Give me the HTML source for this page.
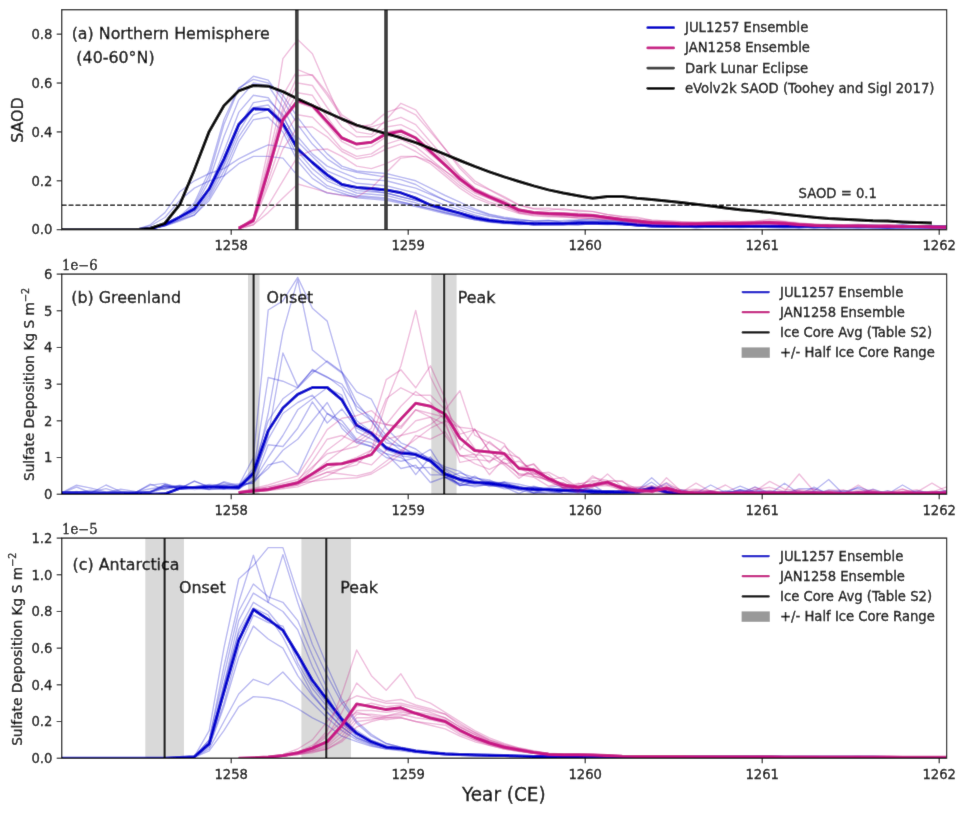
<!DOCTYPE html>
<html><head><meta charset="utf-8"><title>Figure</title>
<style>html,body{margin:0;padding:0;background:#fff;}svg{display:block;}</style>
</head><body>
<svg width="965" height="814" viewBox="0 0 965 814">
<defs><filter id="soft" x="0" y="0" width="100%" height="100%"><feConvolveMatrix order="3" kernelMatrix="0.01 0.06 0.01 0.06 0.72 0.06 0.01 0.06 0.01" edgeMode="duplicate"/></filter>
<clipPath id="clipa"><rect x="61.7" y="9.7" width="884.9" height="220.0"/></clipPath>
<clipPath id="clipb"><rect x="61.7" y="274.1" width="884.9" height="220.1"/></clipPath>
<clipPath id="clipc"><rect x="61.7" y="538.1" width="884.9" height="220.1"/></clipPath>
<style>text{stroke:#000;stroke-width:0.3px;}</style></defs><g filter="url(#soft)"><rect width="965" height="814" fill="#fff"/>
<g clip-path="url(#clipa)">
<path d="M61.7,229.7 L76.5,229.7 L91.2,229.7 L106.0,229.7 L120.7,229.7 L135.4,229.7 L150.2,228.7 L164.9,224.8 L179.7,217.5 L194.4,205.3 L209.2,175.9 L223.9,124.6 L238.7,89.1 L253.4,76.2 L268.2,80.1 L282.9,100.1 L297.7,124.6 L312.4,144.1 L327.2,158.8 L341.9,168.6 L356.7,172.3 L371.4,174.7 L386.2,177.1 L400.9,179.6 L415.7,184.5 L430.4,193.0 L445.2,200.4 L459.9,207.7 L474.7,212.6 L489.4,216.3 L504.2,218.6 L519.0,220.7 L533.7,221.4 L548.5,220.6 L563.2,220.5 L578.0,220.0 L592.7,218.9 L607.5,221.0 L622.2,221.6 L637.0,223.3 L651.7,224.5 L666.5,224.9 L681.2,224.6 L696.0,225.0 L710.7,224.1 L725.5,225.6 L740.2,225.3 L755.0,224.7 L769.7,225.8 L784.5,224.3 L799.2,225.7 L814.0,225.4 L828.7,225.7 L843.5,225.7 L858.2,225.3 L873.0,225.1 L887.7,225.9 L902.5,224.9 L917.2,225.6 L932.0,226.0 L946.7,226.1" fill="none" stroke="#0000cd" stroke-width="1.40" stroke-opacity="0.28" stroke-linejoin="round"/>
<path d="M61.7,229.7 L76.5,229.7 L91.2,229.7 L106.0,229.7 L120.7,229.7 L135.4,229.7 L150.2,228.7 L164.9,224.3 L179.7,216.3 L194.4,202.8 L209.2,171.0 L223.9,119.7 L238.7,87.9 L253.4,79.4 L268.2,83.0 L282.9,95.3 L297.7,117.3 L312.4,136.8 L327.2,153.9 L341.9,166.1 L356.7,171.0 L371.4,172.3 L386.2,173.5 L400.9,177.1 L415.7,180.8 L430.4,188.1 L445.2,195.5 L459.9,202.2 L474.7,208.9 L489.4,214.1 L504.2,217.1 L519.0,219.2 L533.7,221.1 L548.5,221.5 L563.2,221.9 L578.0,220.2 L592.7,220.2 L607.5,219.9 L622.2,221.4 L637.0,222.2 L651.7,225.1 L666.5,224.8 L681.2,225.5 L696.0,225.0 L710.7,224.6 L725.5,225.2 L740.2,225.2 L755.0,224.9 L769.7,224.2 L784.5,225.6 L799.2,225.8 L814.0,225.6 L828.7,225.4 L843.5,225.8 L858.2,225.3 L873.0,225.2 L887.7,226.2 L902.5,224.9 L917.2,226.4 L932.0,225.6 L946.7,225.7" fill="none" stroke="#0000cd" stroke-width="1.40" stroke-opacity="0.28" stroke-linejoin="round"/>
<path d="M61.7,229.7 L76.5,229.7 L91.2,229.7 L106.0,229.7 L120.7,229.7 L135.4,229.7 L150.2,228.7 L164.9,224.8 L179.7,217.5 L194.4,207.7 L209.2,180.8 L223.9,136.8 L238.7,100.1 L253.4,83.0 L268.2,85.5 L282.9,107.5 L297.7,136.8 L312.4,153.9 L327.2,166.1 L341.9,172.3 L356.7,178.4 L371.4,179.6 L386.2,180.8 L400.9,184.5 L415.7,188.1 L430.4,194.3 L445.2,200.4 L459.9,205.3 L474.7,210.1 L489.4,215.0 L504.2,218.3 L519.0,219.9 L533.7,220.9 L548.5,220.1 L563.2,222.4 L578.0,221.2 L592.7,221.7 L607.5,220.7 L622.2,221.9 L637.0,224.0 L651.7,224.4 L666.5,226.0 L681.2,224.9 L696.0,225.6 L710.7,224.6 L725.5,225.1 L740.2,225.0 L755.0,225.6 L769.7,226.1 L784.5,225.1 L799.2,225.0 L814.0,226.1 L828.7,226.4 L843.5,225.6 L858.2,225.9 L873.0,225.8 L887.7,226.5 L902.5,225.5 L917.2,226.7 L932.0,225.4 L946.7,226.3" fill="none" stroke="#0000cd" stroke-width="1.40" stroke-opacity="0.28" stroke-linejoin="round"/>
<path d="M61.7,229.7 L76.5,229.7 L91.2,229.7 L106.0,229.7 L120.7,229.7 L135.4,229.7 L150.2,228.7 L164.9,224.8 L179.7,217.5 L194.4,210.1 L209.2,188.1 L223.9,151.5 L238.7,112.4 L253.4,95.3 L268.2,97.7 L282.9,117.3 L297.7,141.7 L312.4,156.4 L327.2,171.0 L341.9,177.1 L356.7,183.3 L371.4,184.5 L386.2,185.7 L400.9,189.4 L415.7,193.0 L430.4,199.1 L445.2,205.3 L459.9,210.1 L474.7,215.0 L489.4,218.6 L504.2,221.3 L519.0,221.9 L533.7,223.5 L548.5,224.0 L563.2,222.9 L578.0,222.8 L592.7,222.4 L607.5,222.7 L622.2,223.4 L637.0,224.5 L651.7,225.3 L666.5,225.1 L681.2,225.5 L696.0,225.9 L710.7,226.5 L725.5,226.1 L740.2,226.0 L755.0,225.4 L769.7,226.4 L784.5,227.3 L799.2,226.6 L814.0,226.6 L828.7,227.5 L843.5,226.6 L858.2,226.6 L873.0,226.4 L887.7,226.8 L902.5,226.4 L917.2,227.2 L932.0,226.6 L946.7,226.5" fill="none" stroke="#0000cd" stroke-width="1.40" stroke-opacity="0.28" stroke-linejoin="round"/>
<path d="M61.7,229.7 L76.5,229.7 L91.2,229.7 L106.0,229.7 L120.7,229.7 L135.4,229.7 L150.2,229.0 L164.9,225.3 L179.7,218.7 L194.4,211.4 L209.2,193.0 L223.9,163.7 L238.7,127.0 L253.4,102.6 L268.2,100.1 L282.9,114.8 L297.7,146.6 L312.4,163.7 L327.2,178.4 L341.9,184.5 L356.7,190.6 L371.4,191.8 L386.2,193.0 L400.9,196.7 L415.7,200.4 L430.4,204.6 L445.2,208.9 L459.9,213.2 L474.7,217.5 L489.4,219.5 L504.2,222.1 L519.0,222.9 L533.7,223.0 L548.5,223.2 L563.2,224.1 L578.0,223.2 L592.7,222.5 L607.5,223.1 L622.2,224.3 L637.0,225.4 L651.7,225.6 L666.5,226.6 L681.2,226.7 L696.0,226.4 L710.7,226.5 L725.5,226.9 L740.2,226.8 L755.0,226.6 L769.7,226.9 L784.5,226.4 L799.2,227.7 L814.0,226.4 L828.7,226.3 L843.5,226.5 L858.2,227.9 L873.0,227.2 L887.7,226.8 L902.5,226.4 L917.2,226.8 L932.0,227.0 L946.7,227.3" fill="none" stroke="#0000cd" stroke-width="1.40" stroke-opacity="0.28" stroke-linejoin="round"/>
<path d="M61.7,229.7 L76.5,229.7 L91.2,229.7 L106.0,229.7 L120.7,229.7 L135.4,229.7 L150.2,229.0 L164.9,225.5 L179.7,219.9 L194.4,212.6 L209.2,195.5 L223.9,166.1 L238.7,131.9 L253.4,107.5 L268.2,105.0 L282.9,122.1 L297.7,151.5 L312.4,168.6 L327.2,180.8 L341.9,186.9 L356.7,193.0 L371.4,194.3 L386.2,195.5 L400.9,199.1 L415.7,202.8 L430.4,207.1 L445.2,211.4 L459.9,215.0 L474.7,218.7 L489.4,220.9 L504.2,222.7 L519.0,222.7 L533.7,225.0 L548.5,224.3 L563.2,224.1 L578.0,223.6 L592.7,224.2 L607.5,223.9 L622.2,224.3 L637.0,225.9 L651.7,226.6 L666.5,226.5 L681.2,227.0 L696.0,226.6 L710.7,225.8 L725.5,227.3 L740.2,226.9 L755.0,226.1 L769.7,227.3 L784.5,227.3 L799.2,226.8 L814.0,227.2 L828.7,226.3 L843.5,227.0 L858.2,226.6 L873.0,227.8 L887.7,228.3 L902.5,226.6 L917.2,227.5 L932.0,227.9 L946.7,227.2" fill="none" stroke="#0000cd" stroke-width="1.40" stroke-opacity="0.28" stroke-linejoin="round"/>
<path d="M61.7,229.7 L76.5,229.7 L91.2,229.7 L106.0,229.7 L120.7,229.7 L135.4,229.7 L150.2,229.0 L164.9,225.8 L179.7,219.9 L194.4,215.0 L209.2,197.9 L223.9,171.0 L238.7,136.8 L253.4,114.8 L268.2,109.9 L282.9,127.0 L297.7,156.4 L312.4,173.5 L327.2,185.7 L341.9,190.6 L356.7,195.5 L371.4,196.7 L386.2,197.9 L400.9,201.6 L415.7,205.3 L430.4,208.9 L445.2,212.6 L459.9,216.3 L474.7,219.9 L489.4,222.2 L504.2,223.7 L519.0,223.8 L533.7,225.4 L548.5,224.7 L563.2,224.5 L578.0,225.2 L592.7,223.3 L607.5,224.1 L622.2,224.7 L637.0,225.9 L651.7,225.8 L666.5,226.7 L681.2,226.0 L696.0,228.0 L710.7,226.7 L725.5,227.6 L740.2,226.6 L755.0,227.5 L769.7,227.2 L784.5,227.7 L799.2,228.2 L814.0,226.6 L828.7,227.9 L843.5,227.0 L858.2,227.4 L873.0,227.8 L887.7,227.2 L902.5,227.5 L917.2,227.8 L932.0,227.6 L946.7,227.1" fill="none" stroke="#0000cd" stroke-width="1.40" stroke-opacity="0.28" stroke-linejoin="round"/>
<path d="M61.7,229.7 L76.5,229.7 L91.2,229.7 L106.0,229.7 L120.7,229.7 L135.4,229.7 L150.2,229.0 L164.9,226.0 L179.7,221.1 L194.4,215.0 L209.2,200.4 L223.9,175.9 L238.7,141.7 L253.4,119.7 L268.2,117.3 L282.9,131.9 L297.7,161.3 L312.4,178.4 L327.2,188.1 L341.9,193.0 L356.7,197.9 L371.4,199.1 L386.2,200.4 L400.9,203.4 L415.7,206.5 L430.4,210.1 L445.2,213.8 L459.9,216.9 L474.7,219.9 L489.4,221.8 L504.2,223.0 L519.0,224.9 L533.7,224.1 L548.5,224.8 L563.2,224.8 L578.0,224.6 L592.7,224.0 L607.5,224.7 L622.2,224.3 L637.0,225.5 L651.7,226.6 L666.5,227.2 L681.2,227.4 L696.0,227.2 L710.7,226.4 L725.5,227.2 L740.2,227.9 L755.0,227.0 L769.7,227.8 L784.5,228.0 L799.2,227.4 L814.0,227.8 L828.7,227.3 L843.5,227.7 L858.2,227.9 L873.0,227.2 L887.7,227.7 L902.5,227.5 L917.2,226.8 L932.0,227.5 L946.7,227.1" fill="none" stroke="#0000cd" stroke-width="1.40" stroke-opacity="0.28" stroke-linejoin="round"/>
<path d="M61.7,229.7 L76.5,229.7 L91.2,229.7 L106.0,229.7 L120.7,229.7 L135.4,229.7 L150.2,224.8 L164.9,212.6 L179.7,191.8 L194.4,180.8 L209.2,173.5 L223.9,168.6 L238.7,158.8 L253.4,151.5 L268.2,144.9 L282.9,146.6 L297.7,150.3 L312.4,161.3 L327.2,173.5 L341.9,183.3 L356.7,188.1 L371.4,190.6 L386.2,193.0 L400.9,196.7 L415.7,200.4 L430.4,204.6 L445.2,208.9 L459.9,212.6 L474.7,216.3 L489.4,219.2 L504.2,220.4 L519.0,221.3 L533.7,223.5 L548.5,222.7 L563.2,223.1 L578.0,221.8 L592.7,221.2 L607.5,221.8 L622.2,223.0 L637.0,224.4 L651.7,225.4 L666.5,224.9 L681.2,225.0 L696.0,226.1 L710.7,225.1 L725.5,225.2 L740.2,225.0 L755.0,225.7 L769.7,225.3 L784.5,225.3 L799.2,226.1 L814.0,226.2 L828.7,226.2 L843.5,226.7 L858.2,226.5 L873.0,225.7 L887.7,225.7 L902.5,227.1 L917.2,226.7 L932.0,226.5 L946.7,226.3" fill="none" stroke="#0000cd" stroke-width="1.40" stroke-opacity="0.28" stroke-linejoin="round"/>
<path d="M61.7,229.7 L76.5,229.7 L91.2,229.7 L106.0,229.7 L120.7,229.7 L135.4,229.7 L150.2,226.0 L164.9,217.5 L179.7,200.4 L194.4,188.1 L209.2,180.8 L223.9,175.9 L238.7,163.7 L253.4,156.4 L268.2,156.4 L282.9,158.1 L297.7,175.9 L312.4,185.7 L327.2,193.0 L341.9,194.9 L356.7,196.7 L371.4,197.9 L386.2,199.1 L400.9,202.2 L415.7,205.3 L430.4,208.9 L445.2,212.6 L459.9,215.6 L474.7,218.7 L489.4,221.6 L504.2,223.1 L519.0,223.1 L533.7,223.8 L548.5,224.6 L563.2,224.2 L578.0,224.2 L592.7,223.6 L607.5,223.8 L622.2,224.4 L637.0,225.5 L651.7,226.7 L666.5,226.5 L681.2,226.7 L696.0,226.5 L710.7,226.7 L725.5,227.3 L740.2,226.9 L755.0,226.8 L769.7,227.1 L784.5,227.0 L799.2,226.2 L814.0,227.8 L828.7,226.7 L843.5,226.4 L858.2,226.6 L873.0,227.2 L887.7,227.3 L902.5,227.0 L917.2,227.4 L932.0,227.1 L946.7,227.0" fill="none" stroke="#0000cd" stroke-width="1.40" stroke-opacity="0.28" stroke-linejoin="round"/>
<path d="M61.7,229.7 L76.5,229.7 L91.2,229.7 L106.0,229.7 L120.7,229.7 L135.4,229.7 L150.2,228.5 L164.9,224.6 L179.7,217.0 L194.4,208.9 L209.2,188.9 L223.9,159.1 L238.7,124.6 L253.4,108.7 L268.2,109.4 L282.9,123.4 L297.7,149.0 L312.4,162.5 L327.2,174.9 L341.9,184.5 L356.7,187.4 L371.4,188.6 L386.2,190.1 L400.9,192.8 L415.7,198.2 L430.4,205.0 L445.2,209.2 L459.9,213.1 L474.7,217.7 L489.4,220.4 L504.2,222.1 L519.0,223.1 L533.7,223.8 L548.5,223.8 L563.2,223.8 L578.0,223.1 L592.7,222.9 L607.5,223.3 L622.2,223.8 L637.0,225.1 L651.7,226.0 L666.5,226.3 L681.2,226.3 L696.0,226.4 L710.7,226.4 L725.5,226.4 L740.2,226.5 L755.0,226.5 L769.7,226.5 L784.5,226.6 L799.2,226.6 L814.0,226.7 L828.7,226.7 L843.5,226.7 L858.2,226.8 L873.0,226.8 L887.7,226.9 L902.5,226.9 L917.2,226.9 L932.0,227.0 L946.7,227.0" fill="none" stroke="#0000cd" stroke-width="3.00" stroke-linejoin="round"/>
<path d="M238.7,228.5 L253.4,217.5 L268.2,149.0 L282.9,58.6 L297.7,39.5 L312.4,53.7 L327.2,87.9 L341.9,119.7 L356.7,127.0 L371.4,124.6 L386.2,112.4 L400.9,107.5 L415.7,114.8 L430.4,131.9 L445.2,149.0 L459.9,166.1 L474.7,180.8 L489.4,189.4 L504.2,196.6 L519.0,204.8 L533.7,208.4 L548.5,208.3 L563.2,210.0 L578.0,210.2 L592.7,211.4 L607.5,214.4 L622.2,216.2 L637.0,217.2 L651.7,220.3 L666.5,221.0 L681.2,221.7 L696.0,222.4 L710.7,221.7 L725.5,220.7 L740.2,221.8 L755.0,221.3 L769.7,219.3 L784.5,221.1 L799.2,222.7 L814.0,224.1 L828.7,224.6 L843.5,224.8 L858.2,224.1 L873.0,225.3 L887.7,224.9 L902.5,225.6 L917.2,227.0 L932.0,226.9 L946.7,226.2" fill="none" stroke="#c71585" stroke-width="1.40" stroke-opacity="0.28" stroke-linejoin="round"/>
<path d="M238.7,228.5 L253.4,218.7 L268.2,158.8 L282.9,95.3 L297.7,69.6 L312.4,75.7 L327.2,95.3 L341.9,117.3 L356.7,131.9 L371.4,134.4 L386.2,119.7 L400.9,103.3 L415.7,109.9 L430.4,129.5 L445.2,149.0 L459.9,168.6 L474.7,183.3 L489.4,189.9 L504.2,197.9 L519.0,205.4 L533.7,209.0 L548.5,210.3 L563.2,208.6 L578.0,211.2 L592.7,211.6 L607.5,214.7 L622.2,217.0 L637.0,219.0 L651.7,220.2 L666.5,220.9 L681.2,221.8 L696.0,221.9 L710.7,222.2 L725.5,221.7 L740.2,221.6 L755.0,221.2 L769.7,220.7 L784.5,222.0 L799.2,223.6 L814.0,224.7 L828.7,224.2 L843.5,224.6 L858.2,224.8 L873.0,224.9 L887.7,224.7 L902.5,225.4 L917.2,226.0 L932.0,227.2 L946.7,226.0" fill="none" stroke="#c71585" stroke-width="1.40" stroke-opacity="0.28" stroke-linejoin="round"/>
<path d="M238.7,228.5 L253.4,219.9 L268.2,163.7 L282.9,107.5 L297.7,75.7 L312.4,74.7 L327.2,92.8 L341.9,114.8 L356.7,124.6 L371.4,127.0 L386.2,122.1 L400.9,117.3 L415.7,124.6 L430.4,141.7 L445.2,158.8 L459.9,175.9 L474.7,188.1 L489.4,194.9 L504.2,200.5 L519.0,208.9 L533.7,212.0 L548.5,212.2 L563.2,212.7 L578.0,213.2 L592.7,214.7 L607.5,216.4 L622.2,218.4 L637.0,220.1 L651.7,221.6 L666.5,222.9 L681.2,223.6 L696.0,223.3 L710.7,221.9 L725.5,223.0 L740.2,223.3 L755.0,222.4 L769.7,221.6 L784.5,222.2 L799.2,224.0 L814.0,224.4 L828.7,225.8 L843.5,226.2 L858.2,225.4 L873.0,226.0 L887.7,226.1 L902.5,226.2 L917.2,226.6 L932.0,227.0 L946.7,226.8" fill="none" stroke="#c71585" stroke-width="1.40" stroke-opacity="0.28" stroke-linejoin="round"/>
<path d="M238.7,228.5 L253.4,219.9 L268.2,166.1 L282.9,112.4 L297.7,83.0 L312.4,85.5 L327.2,107.5 L341.9,127.0 L356.7,136.8 L371.4,136.8 L386.2,127.0 L400.9,124.6 L415.7,131.9 L430.4,146.6 L445.2,161.3 L459.9,175.9 L474.7,188.1 L489.4,195.5 L504.2,201.5 L519.0,209.1 L533.7,212.6 L548.5,212.9 L563.2,212.9 L578.0,214.3 L592.7,214.3 L607.5,217.1 L622.2,219.1 L637.0,221.2 L651.7,222.2 L666.5,222.9 L681.2,223.6 L696.0,223.1 L710.7,223.4 L725.5,223.5 L740.2,223.1 L755.0,222.1 L769.7,222.6 L784.5,222.2 L799.2,224.0 L814.0,225.5 L828.7,224.9 L843.5,225.5 L858.2,225.7 L873.0,226.1 L887.7,227.2 L902.5,225.5 L917.2,226.2 L932.0,226.8 L946.7,226.9" fill="none" stroke="#c71585" stroke-width="1.40" stroke-opacity="0.28" stroke-linejoin="round"/>
<path d="M238.7,228.5 L253.4,219.9 L268.2,168.6 L282.9,117.3 L297.7,92.8 L312.4,95.3 L327.2,117.3 L341.9,136.8 L356.7,144.1 L371.4,141.7 L386.2,131.9 L400.9,129.5 L415.7,136.8 L430.4,149.0 L445.2,163.7 L459.9,178.4 L474.7,189.4 L489.4,196.2 L504.2,202.6 L519.0,209.4 L533.7,212.9 L548.5,214.4 L563.2,213.8 L578.0,214.9 L592.7,215.4 L607.5,217.7 L622.2,218.9 L637.0,219.7 L651.7,222.8 L666.5,223.0 L681.2,223.5 L696.0,222.8 L710.7,224.2 L725.5,223.6 L740.2,222.5 L755.0,222.6 L769.7,222.3 L784.5,224.0 L799.2,224.3 L814.0,225.5 L828.7,224.8 L843.5,225.5 L858.2,225.9 L873.0,226.3 L887.7,225.0 L902.5,226.7 L917.2,226.5 L932.0,226.4 L946.7,227.0" fill="none" stroke="#c71585" stroke-width="1.40" stroke-opacity="0.28" stroke-linejoin="round"/>
<path d="M238.7,228.5 L253.4,221.1 L268.2,171.0 L282.9,122.1 L297.7,102.6 L312.4,107.5 L327.2,124.6 L341.9,141.7 L356.7,149.0 L371.4,146.6 L386.2,136.8 L400.9,134.4 L415.7,141.7 L430.4,153.9 L445.2,166.1 L459.9,180.8 L474.7,190.6 L489.4,196.9 L504.2,203.5 L519.0,210.6 L533.7,213.5 L548.5,213.9 L563.2,214.5 L578.0,216.1 L592.7,216.6 L607.5,218.0 L622.2,220.1 L637.0,221.9 L651.7,221.8 L666.5,223.9 L681.2,224.3 L696.0,224.7 L710.7,224.5 L725.5,223.5 L740.2,223.6 L755.0,223.2 L769.7,223.3 L784.5,223.6 L799.2,224.8 L814.0,225.3 L828.7,226.3 L843.5,226.6 L858.2,226.3 L873.0,225.9 L887.7,227.3 L902.5,226.5 L917.2,227.0 L932.0,226.7 L946.7,227.3" fill="none" stroke="#c71585" stroke-width="1.40" stroke-opacity="0.28" stroke-linejoin="round"/>
<path d="M238.7,228.7 L253.4,222.4 L268.2,180.8 L282.9,136.8 L297.7,114.8 L312.4,117.3 L327.2,131.9 L341.9,149.0 L356.7,156.4 L371.4,153.9 L386.2,144.1 L400.9,139.3 L415.7,146.6 L430.4,158.8 L445.2,171.0 L459.9,183.3 L474.7,193.0 L489.4,198.6 L504.2,205.3 L519.0,212.7 L533.7,214.4 L548.5,214.2 L563.2,216.0 L578.0,217.0 L592.7,217.7 L607.5,218.8 L622.2,220.3 L637.0,222.9 L651.7,223.6 L666.5,223.5 L681.2,225.2 L696.0,224.1 L710.7,223.1 L725.5,224.4 L740.2,224.3 L755.0,223.6 L769.7,223.6 L784.5,223.8 L799.2,224.9 L814.0,225.9 L828.7,226.8 L843.5,226.1 L858.2,226.6 L873.0,226.6 L887.7,226.0 L902.5,226.2 L917.2,227.0 L932.0,227.7 L946.7,228.3" fill="none" stroke="#c71585" stroke-width="1.40" stroke-opacity="0.28" stroke-linejoin="round"/>
<path d="M238.7,228.7 L253.4,222.4 L268.2,185.7 L282.9,149.0 L297.7,127.0 L312.4,127.0 L327.2,136.8 L341.9,151.5 L356.7,158.8 L371.4,156.4 L386.2,149.0 L400.9,144.1 L415.7,151.5 L430.4,161.3 L445.2,173.5 L459.9,185.7 L474.7,195.5 L489.4,201.9 L504.2,206.7 L519.0,212.7 L533.7,215.0 L548.5,215.8 L563.2,216.8 L578.0,217.9 L592.7,218.3 L607.5,219.4 L622.2,220.9 L637.0,222.6 L651.7,223.8 L666.5,223.6 L681.2,224.4 L696.0,224.3 L710.7,224.5 L725.5,225.1 L740.2,224.4 L755.0,223.6 L769.7,223.7 L784.5,224.5 L799.2,224.7 L814.0,225.9 L828.7,226.7 L843.5,226.4 L858.2,226.5 L873.0,227.5 L887.7,226.5 L902.5,227.8 L917.2,226.8 L932.0,227.2 L946.7,225.9" fill="none" stroke="#c71585" stroke-width="1.40" stroke-opacity="0.28" stroke-linejoin="round"/>
<path d="M238.7,228.7 L253.4,224.8 L268.2,212.6 L282.9,197.9 L297.7,184.0 L312.4,188.1 L327.2,192.5 L341.9,195.5 L356.7,197.2 L371.4,188.1 L386.2,172.7 L400.9,158.1 L415.7,156.4 L430.4,161.3 L445.2,171.0 L459.9,180.8 L474.7,191.8 L489.4,198.7 L504.2,204.3 L519.0,211.8 L533.7,213.4 L548.5,215.8 L563.2,215.1 L578.0,216.4 L592.7,216.5 L607.5,217.9 L622.2,219.9 L637.0,221.5 L651.7,223.4 L666.5,223.4 L681.2,224.3 L696.0,224.0 L710.7,224.5 L725.5,224.4 L740.2,224.5 L755.0,223.5 L769.7,223.5 L784.5,224.4 L799.2,225.7 L814.0,225.6 L828.7,226.0 L843.5,227.4 L858.2,226.4 L873.0,226.8 L887.7,225.8 L902.5,226.5 L917.2,226.1 L932.0,228.0 L946.7,228.0" fill="none" stroke="#c71585" stroke-width="1.40" stroke-opacity="0.28" stroke-linejoin="round"/>
<path d="M238.7,228.7 L253.4,224.8 L268.2,205.3 L282.9,180.8 L297.7,156.4 L312.4,150.3 L327.2,149.0 L341.9,156.4 L356.7,166.1 L371.4,168.6 L386.2,163.7 L400.9,156.4 L415.7,156.4 L430.4,163.7 L445.2,175.9 L459.9,188.1 L474.7,197.9 L489.4,203.7 L504.2,208.7 L519.0,213.6 L533.7,215.9 L548.5,216.9 L563.2,217.0 L578.0,218.1 L592.7,218.9 L607.5,219.1 L622.2,221.4 L637.0,223.5 L651.7,224.3 L666.5,224.5 L681.2,224.6 L696.0,224.8 L710.7,224.0 L725.5,223.9 L740.2,224.9 L755.0,223.5 L769.7,223.8 L784.5,224.1 L799.2,225.2 L814.0,226.2 L828.7,226.6 L843.5,226.1 L858.2,226.9 L873.0,226.7 L887.7,226.8 L902.5,226.8 L917.2,227.2 L932.0,228.0 L946.7,227.9" fill="none" stroke="#c71585" stroke-width="1.40" stroke-opacity="0.28" stroke-linejoin="round"/>
<path d="M238.7,228.2 L253.4,220.4 L268.2,171.0 L282.9,119.7 L297.7,100.6 L312.4,105.5 L327.2,121.7 L341.9,138.0 L356.7,144.1 L371.4,142.2 L386.2,133.9 L400.9,131.2 L415.7,138.0 L430.4,151.5 L445.2,165.2 L459.9,178.9 L474.7,190.1 L489.4,196.9 L504.2,203.1 L519.0,210.1 L533.7,212.6 L548.5,213.6 L563.2,214.1 L578.0,215.0 L592.7,215.5 L607.5,217.5 L622.2,219.4 L637.0,220.9 L651.7,222.4 L666.5,223.1 L681.2,223.8 L696.0,223.8 L710.7,223.6 L725.5,223.6 L740.2,223.3 L755.0,222.9 L769.7,222.6 L784.5,223.3 L799.2,224.6 L814.0,225.3 L828.7,225.8 L843.5,225.9 L858.2,226.0 L873.0,226.2 L887.7,226.3 L902.5,226.5 L917.2,226.6 L932.0,226.8 L946.7,227.0" fill="none" stroke="#c71585" stroke-width="3.00" stroke-linejoin="round"/>
<path d="M61.7,229.7 L76.5,229.7 L91.2,229.7 L106.0,229.7 L120.7,229.7 L135.4,229.7 L150.2,228.5 L164.9,223.3 L179.7,204.8 L194.4,169.8 L209.2,131.4 L223.9,105.8 L238.7,90.9 L253.4,85.5 L268.2,86.2 L282.9,91.6 L297.7,98.9 L312.4,105.5 L327.2,112.4 L341.9,119.0 L356.7,125.1 L371.4,129.5 L386.2,133.6 L400.9,137.8 L415.7,142.7 L430.4,148.3 L445.2,154.4 L459.9,160.5 L474.7,166.4 L489.4,171.8 L504.2,176.9 L519.0,181.5 L533.7,185.9 L548.5,189.9 L563.2,193.0 L578.0,195.7 L592.7,198.2 L607.5,196.5 L622.2,196.5 L637.0,198.2 L651.7,199.4 L666.5,200.9 L681.2,202.6 L696.0,204.3 L710.7,206.0 L725.5,207.9 L740.2,209.7 L755.0,211.1 L769.7,212.6 L784.5,214.3 L799.2,215.8 L814.0,217.2 L828.7,218.5 L843.5,219.2 L858.2,219.9 L873.0,220.7 L887.7,221.1 L902.5,221.9 L917.2,222.4 L932.0,223.1" fill="none" stroke="#000" stroke-width="3.00" stroke-linejoin="round"/>
<line x1="61.7" y1="205.26" x2="946.6" y2="205.26" stroke="#000" stroke-width="1.3" stroke-dasharray="4.83 2.09"/>
<line x1="296.8" y1="9.7" x2="296.8" y2="229.7" stroke="#3c3c3c" stroke-width="3.7"/>
<line x1="386.0" y1="9.7" x2="386.0" y2="229.7" stroke="#3c3c3c" stroke-width="3.7"/>
</g>
<line x1="56.7" y1="229.70" x2="61.7" y2="229.70" stroke="#000" stroke-width="1.05"/>
<text transform="translate(52.40,234.45) scale(1,1.050)" font-size="13.20" text-anchor="end" font-family="'DejaVu Sans', 'Liberation Sans', sans-serif">0.0</text>
<line x1="56.7" y1="180.81" x2="61.7" y2="180.81" stroke="#000" stroke-width="1.05"/>
<text transform="translate(52.40,185.56) scale(1,1.050)" font-size="13.20" text-anchor="end" font-family="'DejaVu Sans', 'Liberation Sans', sans-serif">0.2</text>
<line x1="56.7" y1="131.92" x2="61.7" y2="131.92" stroke="#000" stroke-width="1.05"/>
<text transform="translate(52.40,136.67) scale(1,1.050)" font-size="13.20" text-anchor="end" font-family="'DejaVu Sans', 'Liberation Sans', sans-serif">0.4</text>
<line x1="56.7" y1="83.03" x2="61.7" y2="83.03" stroke="#000" stroke-width="1.05"/>
<text transform="translate(52.40,87.78) scale(1,1.050)" font-size="13.20" text-anchor="end" font-family="'DejaVu Sans', 'Liberation Sans', sans-serif">0.6</text>
<line x1="56.7" y1="34.14" x2="61.7" y2="34.14" stroke="#000" stroke-width="1.05"/>
<text transform="translate(52.40,38.89) scale(1,1.050)" font-size="13.20" text-anchor="end" font-family="'DejaVu Sans', 'Liberation Sans', sans-serif">0.8</text>
<line x1="231.20" y1="229.7" x2="231.20" y2="234.7" stroke="#000" stroke-width="1.05"/>
<text transform="translate(231.20,250.10) scale(1,1.050)" font-size="13.20" text-anchor="middle" font-family="'DejaVu Sans', 'Liberation Sans', sans-serif">1258</text>
<line x1="408.20" y1="229.7" x2="408.20" y2="234.7" stroke="#000" stroke-width="1.05"/>
<text transform="translate(408.20,250.10) scale(1,1.050)" font-size="13.20" text-anchor="middle" font-family="'DejaVu Sans', 'Liberation Sans', sans-serif">1259</text>
<line x1="585.20" y1="229.7" x2="585.20" y2="234.7" stroke="#000" stroke-width="1.05"/>
<text transform="translate(585.20,250.10) scale(1,1.050)" font-size="13.20" text-anchor="middle" font-family="'DejaVu Sans', 'Liberation Sans', sans-serif">1260</text>
<line x1="762.20" y1="229.7" x2="762.20" y2="234.7" stroke="#000" stroke-width="1.05"/>
<text transform="translate(762.20,250.10) scale(1,1.050)" font-size="13.20" text-anchor="middle" font-family="'DejaVu Sans', 'Liberation Sans', sans-serif">1261</text>
<line x1="939.20" y1="229.7" x2="939.20" y2="234.7" stroke="#000" stroke-width="1.05"/>
<text transform="translate(939.20,250.10) scale(1,1.050)" font-size="13.20" text-anchor="middle" font-family="'DejaVu Sans', 'Liberation Sans', sans-serif">1262</text>
<rect x="61.7" y="9.7" width="884.9" height="220.0" fill="none" stroke="#000" stroke-width="1.25"/>
<text transform="translate(71.67,38.70) scale(1,1.050)" font-size="15.86" text-anchor="start" font-family="'DejaVu Sans', 'Liberation Sans', sans-serif">(a) Northern Hemisphere</text>
<text transform="translate(76.37,63.20) scale(1,1.050)" font-size="15.86" text-anchor="start" font-family="'DejaVu Sans', 'Liberation Sans', sans-serif">(40-60°N)</text>
<text transform="translate(798.58,198.30) scale(1,1.050)" font-size="13.20" text-anchor="start" font-family="'DejaVu Sans', 'Liberation Sans', sans-serif">SAOD = 0.1</text>
<line x1="647.8" y1="27.7" x2="673.6" y2="27.7" stroke="#0000cd" stroke-width="2.80" stroke-linecap="round"/>
<text transform="translate(685.00,32.10) scale(1,1.050)" font-size="13.20" text-anchor="start" font-family="'DejaVu Sans', 'Liberation Sans', sans-serif">JUL1257 Ensemble</text>
<line x1="647.8" y1="47.9" x2="673.6" y2="47.9" stroke="#c71585" stroke-width="2.80" stroke-linecap="round"/>
<text transform="translate(685.00,52.30) scale(1,1.050)" font-size="13.20" text-anchor="start" font-family="'DejaVu Sans', 'Liberation Sans', sans-serif">JAN1258 Ensemble</text>
<line x1="647.8" y1="68.1" x2="673.6" y2="68.1" stroke="#3a3a3a" stroke-width="2.80" stroke-linecap="round"/>
<text transform="translate(685.00,72.50) scale(1,1.050)" font-size="13.20" text-anchor="start" font-family="'DejaVu Sans', 'Liberation Sans', sans-serif">Dark Lunar Eclipse</text>
<line x1="647.8" y1="88.3" x2="673.6" y2="88.3" stroke="#000" stroke-width="2.80" stroke-linecap="round"/>
<text transform="translate(685.00,92.70) scale(1,1.050)" font-size="13.20" text-anchor="start" font-family="'DejaVu Sans', 'Liberation Sans', sans-serif">eVolv2k SAOD (Toohey and Sigl 2017)</text>
<text transform="translate(23.0,120.0) rotate(-90) scale(1,1.05)" x="0" y="0" font-size="15.86" text-anchor="middle" font-family="'DejaVu Sans', 'Liberation Sans', sans-serif">SAOD</text>
<g clip-path="url(#clipb)">
<rect x="248.0" y="274.1" width="11.5" height="220.1" fill="#d9d9d9"/>
<rect x="431.3" y="274.1" width="25.3" height="220.1" fill="#d9d9d9"/>
<path d="M61.7,491.9 L76.5,492.3 L91.2,490.3 L106.0,493.4 L120.7,493.4 L135.4,492.0 L150.2,492.0 L164.9,486.5 L179.7,486.7 L194.4,487.5 L209.2,486.0 L223.9,488.9 L238.7,485.5 L253.4,457.5 L268.2,310.0 L282.9,300.9 L297.7,277.4 L312.4,308.2 L327.2,321.1 L341.9,372.0 L356.7,402.5 L371.4,420.8 L386.2,439.2 L400.9,450.2 L415.7,454.2 L430.4,459.2 L445.2,466.9 L459.9,471.4 L474.7,481.8 L489.4,484.0 L504.2,482.0 L519.0,484.3 L533.7,487.6 L548.5,487.6 L563.2,485.0 L578.0,491.2 L592.7,493.0 L607.5,491.8 L622.2,492.5 L637.0,490.3 L651.7,482.2 L666.5,492.5 L681.2,494.2 L696.0,494.2 L710.7,492.2 L725.5,493.8 L740.2,489.8 L755.0,491.3 L769.7,491.2 L784.5,491.7 L799.2,491.2 L814.0,494.2 L828.7,489.9 L843.5,491.8 L858.2,488.3 L873.0,493.7 L887.7,492.9 L902.5,494.2 L917.2,494.2 L932.0,491.9 L946.7,493.1" fill="none" stroke="#0000cd" stroke-width="1.40" stroke-opacity="0.28" stroke-linejoin="round"/>
<path d="M61.7,492.6 L76.5,485.2 L91.2,488.1 L106.0,492.0 L120.7,492.7 L135.4,492.6 L150.2,492.9 L164.9,488.2 L179.7,485.1 L194.4,488.2 L209.2,487.3 L223.9,488.7 L238.7,489.3 L253.4,475.9 L268.2,413.5 L282.9,332.1 L297.7,279.6 L312.4,350.0 L327.2,362.1 L341.9,373.1 L356.7,409.8 L371.4,420.8 L386.2,442.8 L400.9,446.5 L415.7,456.0 L430.4,459.4 L445.2,477.3 L459.9,485.9 L474.7,481.4 L489.4,481.2 L504.2,483.2 L519.0,486.3 L533.7,493.2 L548.5,489.2 L563.2,490.6 L578.0,493.1 L592.7,489.2 L607.5,491.4 L622.2,490.7 L637.0,489.8 L651.7,488.3 L666.5,494.0 L681.2,489.7 L696.0,493.1 L710.7,493.5 L725.5,492.1 L740.2,486.1 L755.0,492.1 L769.7,493.2 L784.5,494.2 L799.2,494.2 L814.0,492.8 L828.7,494.2 L843.5,492.5 L858.2,494.2 L873.0,493.8 L887.7,494.2 L902.5,485.0 L917.2,493.3 L932.0,493.6 L946.7,492.5" fill="none" stroke="#0000cd" stroke-width="1.40" stroke-opacity="0.28" stroke-linejoin="round"/>
<path d="M61.7,491.9 L76.5,491.9 L91.2,492.6 L106.0,492.7 L120.7,492.7 L135.4,493.3 L150.2,491.3 L164.9,488.5 L179.7,486.2 L194.4,487.2 L209.2,489.4 L223.9,488.7 L238.7,489.2 L253.4,479.5 L268.2,435.5 L282.9,353.0 L297.7,386.4 L312.4,370.2 L327.2,377.5 L341.9,384.1 L356.7,406.2 L371.4,417.2 L386.2,435.5 L400.9,446.5 L415.7,454.5 L430.4,460.5 L445.2,469.7 L459.9,481.5 L474.7,484.3 L489.4,481.8 L504.2,483.6 L519.0,488.1 L533.7,491.1 L548.5,494.2 L563.2,491.9 L578.0,491.3 L592.7,493.1 L607.5,492.9 L622.2,493.0 L637.0,491.1 L651.7,488.0 L666.5,488.9 L681.2,493.3 L696.0,493.3 L710.7,494.2 L725.5,491.7 L740.2,494.2 L755.0,489.5 L769.7,493.9 L784.5,493.9 L799.2,494.2 L814.0,491.0 L828.7,479.5 L843.5,494.2 L858.2,494.2 L873.0,494.2 L887.7,494.2 L902.5,494.2 L917.2,493.0 L932.0,493.3 L946.7,494.2" fill="none" stroke="#0000cd" stroke-width="1.40" stroke-opacity="0.28" stroke-linejoin="round"/>
<path d="M61.7,493.1 L76.5,487.0 L91.2,492.9 L106.0,485.0 L120.7,491.6 L135.4,492.0 L150.2,488.7 L164.9,486.8 L179.7,488.7 L194.4,480.8 L209.2,486.8 L223.9,482.8 L238.7,487.1 L253.4,472.2 L268.2,377.5 L282.9,381.2 L297.7,387.8 L312.4,373.1 L327.2,361.0 L341.9,372.0 L356.7,391.9 L371.4,399.2 L386.2,428.2 L400.9,442.8 L415.7,449.0 L430.4,460.2 L445.2,473.1 L459.9,477.8 L474.7,478.1 L489.4,480.0 L504.2,486.5 L519.0,489.1 L533.7,486.2 L548.5,489.9 L563.2,487.8 L578.0,487.0 L592.7,489.5 L607.5,491.8 L622.2,492.0 L637.0,490.0 L651.7,491.2 L666.5,483.2 L681.2,494.2 L696.0,491.7 L710.7,494.2 L725.5,493.0 L740.2,492.2 L755.0,494.0 L769.7,494.1 L784.5,493.7 L799.2,493.5 L814.0,492.3 L828.7,493.5 L843.5,490.5 L858.2,494.2 L873.0,489.2 L887.7,493.9 L902.5,494.2 L917.2,491.7 L932.0,492.2 L946.7,491.0" fill="none" stroke="#0000cd" stroke-width="1.40" stroke-opacity="0.28" stroke-linejoin="round"/>
<path d="M61.7,493.1 L76.5,491.5 L91.2,493.2 L106.0,493.4 L120.7,491.9 L135.4,492.4 L150.2,492.0 L164.9,484.5 L179.7,489.4 L194.4,486.4 L209.2,485.2 L223.9,488.4 L238.7,484.9 L253.4,483.2 L268.2,444.7 L282.9,446.5 L297.7,428.2 L312.4,401.8 L327.2,423.0 L341.9,409.1 L356.7,428.2 L371.4,435.5 L386.2,450.2 L400.9,455.7 L415.7,458.0 L430.4,449.4 L445.2,472.4 L459.9,485.4 L474.7,485.4 L489.4,485.3 L504.2,487.3 L519.0,490.2 L533.7,488.0 L548.5,489.0 L563.2,490.3 L578.0,489.9 L592.7,492.6 L607.5,492.4 L622.2,494.2 L637.0,490.8 L651.7,477.7 L666.5,490.8 L681.2,494.2 L696.0,494.2 L710.7,491.3 L725.5,494.2 L740.2,493.0 L755.0,494.2 L769.7,494.2 L784.5,491.8 L799.2,494.2 L814.0,487.2 L828.7,494.2 L843.5,494.2 L858.2,494.2 L873.0,494.2 L887.7,494.2 L902.5,492.5 L917.2,494.0 L932.0,492.7 L946.7,494.2" fill="none" stroke="#0000cd" stroke-width="1.40" stroke-opacity="0.28" stroke-linejoin="round"/>
<path d="M61.7,491.6 L76.5,491.8 L91.2,491.9 L106.0,488.6 L120.7,493.2 L135.4,492.5 L150.2,485.1 L164.9,483.4 L179.7,488.7 L194.4,481.4 L209.2,487.1 L223.9,484.7 L238.7,483.9 L253.4,483.2 L268.2,464.9 L282.9,461.2 L297.7,474.4 L312.4,442.8 L327.2,413.5 L341.9,420.8 L356.7,439.2 L371.4,442.8 L386.2,453.8 L400.9,457.5 L415.7,468.0 L430.4,467.4 L445.2,477.3 L459.9,484.1 L474.7,476.2 L489.4,485.2 L504.2,486.9 L519.0,493.5 L533.7,486.8 L548.5,490.2 L563.2,489.7 L578.0,487.4 L592.7,493.7 L607.5,492.7 L622.2,491.1 L637.0,491.8 L651.7,487.2 L666.5,491.5 L681.2,494.2 L696.0,492.6 L710.7,494.2 L725.5,490.6 L740.2,493.6 L755.0,486.9 L769.7,493.0 L784.5,494.2 L799.2,488.6 L814.0,488.8 L828.7,493.1 L843.5,494.2 L858.2,493.6 L873.0,494.2 L887.7,490.6 L902.5,494.2 L917.2,493.0 L932.0,493.5 L946.7,492.6" fill="none" stroke="#0000cd" stroke-width="1.40" stroke-opacity="0.28" stroke-linejoin="round"/>
<path d="M61.7,492.9 L76.5,492.3 L91.2,491.6 L106.0,491.8 L120.7,491.3 L135.4,492.7 L150.2,484.2 L164.9,489.5 L179.7,485.7 L194.4,487.0 L209.2,484.4 L223.9,485.2 L238.7,487.2 L253.4,481.4 L268.2,457.5 L282.9,435.5 L297.7,409.8 L312.4,398.8 L327.2,387.8 L341.9,395.2 L356.7,431.8 L371.4,439.2 L386.2,446.5 L400.9,453.8 L415.7,474.6 L430.4,456.8 L445.2,477.8 L459.9,472.9 L474.7,477.6 L489.4,482.0 L504.2,484.4 L519.0,486.6 L533.7,488.5 L548.5,491.2 L563.2,493.5 L578.0,491.7 L592.7,492.3 L607.5,493.0 L622.2,490.8 L637.0,494.2 L651.7,489.0 L666.5,488.8 L681.2,494.2 L696.0,492.5 L710.7,490.9 L725.5,494.2 L740.2,492.5 L755.0,494.2 L769.7,494.1 L784.5,483.2 L799.2,493.9 L814.0,491.2 L828.7,492.8 L843.5,494.2 L858.2,491.6 L873.0,494.2 L887.7,493.2 L902.5,494.2 L917.2,490.6 L932.0,493.1 L946.7,493.5" fill="none" stroke="#0000cd" stroke-width="1.40" stroke-opacity="0.28" stroke-linejoin="round"/>
<path d="M61.7,491.9 L76.5,492.3 L91.2,493.1 L106.0,492.4 L120.7,492.1 L135.4,492.1 L150.2,492.9 L164.9,485.4 L179.7,488.6 L194.4,487.2 L209.2,489.6 L223.9,488.9 L238.7,485.4 L253.4,468.5 L268.2,420.8 L282.9,398.8 L297.7,387.8 L312.4,369.5 L327.2,376.8 L341.9,387.8 L356.7,420.8 L371.4,431.8 L386.2,446.5 L400.9,452.0 L415.7,452.5 L430.4,458.1 L445.2,468.7 L459.9,476.1 L474.7,480.2 L489.4,486.5 L504.2,482.0 L519.0,488.3 L533.7,487.8 L548.5,489.2 L563.2,488.5 L578.0,492.6 L592.7,493.4 L607.5,493.3 L622.2,492.8 L637.0,493.7 L651.7,485.8 L666.5,490.9 L681.2,493.4 L696.0,493.7 L710.7,494.2 L725.5,493.3 L740.2,490.3 L755.0,492.7 L769.7,491.4 L784.5,492.1 L799.2,493.8 L814.0,494.2 L828.7,491.7 L843.5,493.2 L858.2,492.0 L873.0,494.2 L887.7,493.5 L902.5,492.7 L917.2,493.7 L932.0,492.7 L946.7,490.7" fill="none" stroke="#0000cd" stroke-width="1.40" stroke-opacity="0.28" stroke-linejoin="round"/>
<path d="M61.7,492.6 L76.5,492.5 L91.2,492.2 L106.0,493.0 L120.7,489.1 L135.4,491.5 L150.2,492.2 L164.9,486.4 L179.7,487.5 L194.4,488.4 L209.2,489.5 L223.9,481.7 L238.7,485.7 L253.4,475.9 L268.2,439.2 L282.9,413.5 L297.7,402.5 L312.4,395.2 L327.2,413.5 L341.9,424.5 L356.7,441.0 L371.4,446.5 L386.2,457.5 L400.9,461.2 L415.7,458.0 L430.4,474.7 L445.2,474.9 L459.9,485.2 L474.7,482.9 L489.4,485.4 L504.2,486.7 L519.0,489.9 L533.7,493.3 L548.5,492.5 L563.2,491.1 L578.0,492.1 L592.7,484.8 L607.5,494.2 L622.2,491.9 L637.0,488.3 L651.7,489.3 L666.5,491.9 L681.2,491.7 L696.0,493.2 L710.7,485.0 L725.5,492.7 L740.2,489.8 L755.0,494.2 L769.7,494.2 L784.5,491.5 L799.2,493.9 L814.0,494.2 L828.7,492.7 L843.5,493.1 L858.2,494.2 L873.0,494.2 L887.7,493.5 L902.5,494.2 L917.2,494.2 L932.0,493.2 L946.7,494.2" fill="none" stroke="#0000cd" stroke-width="1.40" stroke-opacity="0.28" stroke-linejoin="round"/>
<path d="M61.7,491.6 L76.5,491.6 L91.2,491.6 L106.0,492.5 L120.7,492.5 L135.4,493.2 L150.2,491.5 L164.9,484.7 L179.7,486.5 L194.4,489.5 L209.2,487.5 L223.9,487.2 L238.7,487.5 L253.4,481.4 L268.2,468.5 L282.9,450.2 L297.7,439.2 L312.4,420.8 L327.2,402.5 L341.9,428.2 L356.7,442.8 L371.4,446.5 L386.2,453.8 L400.9,468.5 L415.7,465.3 L430.4,482.5 L445.2,477.0 L459.9,483.5 L474.7,486.7 L489.4,484.3 L504.2,488.9 L519.0,488.1 L533.7,492.6 L548.5,488.7 L563.2,493.6 L578.0,494.2 L592.7,493.6 L607.5,494.0 L622.2,494.1 L637.0,493.2 L651.7,489.4 L666.5,492.0 L681.2,490.4 L696.0,493.0 L710.7,494.1 L725.5,492.8 L740.2,491.4 L755.0,492.7 L769.7,494.2 L784.5,492.2 L799.2,494.2 L814.0,492.6 L828.7,494.2 L843.5,494.2 L858.2,486.9 L873.0,491.8 L887.7,493.2 L902.5,494.1 L917.2,494.2 L932.0,494.2 L946.7,493.0" fill="none" stroke="#0000cd" stroke-width="1.40" stroke-opacity="0.28" stroke-linejoin="round"/>
<path d="M61.7,494.2 L76.5,494.2 L91.2,494.2 L106.0,494.2 L120.7,494.2 L135.4,494.2 L150.2,494.2 L164.9,493.8 L179.7,488.3 L194.4,487.6 L209.2,486.9 L223.9,486.9 L238.7,487.6 L253.4,472.9 L268.2,430.7 L282.9,408.0 L297.7,394.4 L312.4,387.5 L327.2,387.5 L341.9,399.9 L356.7,425.2 L371.4,433.3 L386.2,448.0 L400.9,453.1 L415.7,454.6 L430.4,461.2 L445.2,474.0 L459.9,479.5 L474.7,482.5 L489.4,483.2 L504.2,485.4 L519.0,488.0 L533.7,489.4 L548.5,489.8 L563.2,490.5 L578.0,490.5 L592.7,491.3 L607.5,491.6 L622.2,492.0 L637.0,491.6 L651.7,488.0 L666.5,492.0 L681.2,493.5 L696.0,493.4 L710.7,493.6 L725.5,493.5 L740.2,493.3 L755.0,493.3 L769.7,493.7 L784.5,493.6 L799.2,493.7 L814.0,493.5 L828.7,493.7 L843.5,493.5 L858.2,493.4 L873.0,493.6 L887.7,493.4 L902.5,493.4 L917.2,493.7 L932.0,493.5 L946.7,493.6" fill="none" stroke="#0000cd" stroke-width="3.00" stroke-linejoin="round"/>
<path d="M238.7,493.1 L253.4,491.8 L268.2,490.5 L282.9,486.9 L297.7,483.2 L312.4,477.7 L327.2,472.2 L341.9,468.5 L356.7,464.9 L371.4,450.2 L386.2,402.5 L400.9,365.8 L415.7,310.4 L430.4,376.8 L445.2,406.2 L459.9,434.1 L474.7,429.9 L489.4,436.5 L504.2,443.7 L519.0,469.6 L533.7,463.7 L548.5,479.3 L563.2,485.7 L578.0,489.3 L592.7,475.8 L607.5,484.9 L622.2,486.5 L637.0,488.6 L651.7,488.8 L666.5,485.0 L681.2,489.9 L696.0,489.1 L710.7,490.8 L725.5,493.3 L740.2,494.2 L755.0,489.7 L769.7,487.3 L784.5,491.5 L799.2,474.0 L814.0,491.2 L828.7,494.1 L843.5,494.2 L858.2,491.8 L873.0,491.0 L887.7,494.2 L902.5,491.2 L917.2,491.6 L932.0,492.7 L946.7,491.9" fill="none" stroke="#c71585" stroke-width="1.40" stroke-opacity="0.28" stroke-linejoin="round"/>
<path d="M238.7,492.4 L253.4,490.5 L268.2,488.7 L282.9,486.9 L297.7,485.0 L312.4,473.1 L327.2,461.2 L341.9,450.2 L356.7,439.2 L371.4,428.2 L386.2,379.7 L400.9,369.8 L415.7,387.8 L430.4,365.8 L445.2,398.8 L459.9,449.8 L474.7,429.1 L489.4,451.0 L504.2,463.9 L519.0,461.2 L533.7,470.1 L548.5,474.3 L563.2,488.5 L578.0,484.3 L592.7,480.6 L607.5,481.3 L622.2,480.8 L637.0,493.8 L651.7,490.9 L666.5,490.9 L681.2,493.9 L696.0,490.0 L710.7,492.2 L725.5,485.0 L740.2,493.4 L755.0,487.3 L769.7,494.2 L784.5,493.7 L799.2,493.2 L814.0,493.8 L828.7,491.0 L843.5,494.2 L858.2,493.3 L873.0,491.4 L887.7,494.2 L902.5,494.0 L917.2,494.2 L932.0,493.8 L946.7,494.2" fill="none" stroke="#c71585" stroke-width="1.40" stroke-opacity="0.28" stroke-linejoin="round"/>
<path d="M238.7,492.4 L253.4,489.6 L268.2,486.9 L282.9,483.2 L297.7,479.5 L312.4,466.7 L327.2,453.8 L341.9,450.2 L356.7,446.5 L371.4,435.5 L386.2,398.8 L400.9,387.8 L415.7,395.2 L430.4,395.2 L445.2,409.8 L459.9,390.7 L474.7,435.1 L489.4,443.1 L504.2,453.2 L519.0,457.6 L533.7,476.0 L548.5,479.8 L563.2,477.4 L578.0,487.6 L592.7,486.8 L607.5,483.3 L622.2,488.7 L637.0,487.6 L651.7,487.3 L666.5,489.6 L681.2,492.8 L696.0,493.5 L710.7,492.3 L725.5,492.6 L740.2,494.0 L755.0,493.6 L769.7,494.2 L784.5,494.2 L799.2,494.2 L814.0,489.0 L828.7,494.2 L843.5,494.2 L858.2,485.0 L873.0,494.2 L887.7,492.5 L902.5,493.4 L917.2,494.0 L932.0,491.0 L946.7,492.8" fill="none" stroke="#c71585" stroke-width="1.40" stroke-opacity="0.28" stroke-linejoin="round"/>
<path d="M238.7,492.7 L253.4,491.3 L268.2,489.8 L282.9,486.5 L297.7,483.2 L312.4,475.9 L327.2,468.5 L341.9,463.0 L356.7,457.5 L371.4,450.2 L386.2,424.5 L400.9,406.2 L415.7,391.5 L430.4,402.5 L445.2,420.8 L459.9,427.5 L474.7,448.3 L489.4,462.7 L504.2,446.0 L519.0,458.6 L533.7,473.1 L548.5,481.0 L563.2,482.8 L578.0,489.3 L592.7,481.8 L607.5,484.7 L622.2,486.2 L637.0,487.0 L651.7,485.9 L666.5,489.2 L681.2,492.7 L696.0,494.2 L710.7,492.7 L725.5,493.1 L740.2,494.2 L755.0,491.1 L769.7,481.4 L784.5,489.2 L799.2,490.7 L814.0,494.2 L828.7,493.9 L843.5,494.2 L858.2,491.9 L873.0,491.7 L887.7,492.7 L902.5,488.9 L917.2,494.2 L932.0,494.2 L946.7,494.2" fill="none" stroke="#c71585" stroke-width="1.40" stroke-opacity="0.28" stroke-linejoin="round"/>
<path d="M238.7,492.0 L253.4,488.5 L268.2,485.0 L282.9,480.4 L297.7,475.9 L312.4,453.8 L327.2,429.6 L341.9,418.3 L356.7,415.7 L371.4,410.6 L386.2,424.5 L400.9,426.3 L415.7,409.8 L430.4,413.5 L445.2,417.2 L459.9,446.0 L474.7,454.6 L489.4,456.3 L504.2,465.0 L519.0,478.4 L533.7,468.3 L548.5,478.0 L563.2,487.4 L578.0,483.3 L592.7,486.1 L607.5,481.9 L622.2,489.6 L637.0,492.0 L651.7,490.5 L666.5,486.3 L681.2,492.5 L696.0,483.2 L710.7,491.6 L725.5,494.0 L740.2,493.5 L755.0,492.5 L769.7,490.5 L784.5,493.5 L799.2,491.6 L814.0,491.6 L828.7,494.1 L843.5,493.9 L858.2,490.2 L873.0,490.6 L887.7,494.1 L902.5,492.0 L917.2,489.8 L932.0,494.2 L946.7,494.1" fill="none" stroke="#c71585" stroke-width="1.40" stroke-opacity="0.28" stroke-linejoin="round"/>
<path d="M238.7,492.4 L253.4,491.4 L268.2,490.5 L282.9,488.7 L297.7,486.9 L312.4,481.4 L327.2,475.9 L341.9,468.5 L356.7,461.2 L371.4,464.9 L386.2,450.2 L400.9,435.5 L415.7,420.8 L430.4,417.2 L445.2,424.5 L459.9,456.2 L474.7,454.3 L489.4,474.7 L504.2,458.2 L519.0,466.9 L533.7,464.5 L548.5,480.4 L563.2,487.6 L578.0,487.0 L592.7,485.5 L607.5,485.7 L622.2,489.5 L637.0,492.1 L651.7,494.2 L666.5,477.7 L681.2,491.3 L696.0,494.2 L710.7,494.2 L725.5,494.2 L740.2,494.0 L755.0,492.3 L769.7,493.0 L784.5,494.2 L799.2,493.0 L814.0,494.2 L828.7,491.6 L843.5,492.4 L858.2,492.7 L873.0,489.6 L887.7,494.2 L902.5,489.4 L917.2,493.5 L932.0,491.9 L946.7,494.1" fill="none" stroke="#c71585" stroke-width="1.40" stroke-opacity="0.28" stroke-linejoin="round"/>
<path d="M238.7,492.4 L253.4,490.5 L268.2,488.7 L282.9,485.0 L297.7,481.4 L312.4,461.2 L327.2,439.2 L341.9,435.5 L356.7,442.8 L371.4,431.8 L386.2,439.2 L400.9,435.5 L415.7,431.8 L430.4,424.5 L445.2,413.5 L459.9,427.3 L474.7,429.1 L489.4,451.2 L504.2,463.2 L519.0,473.6 L533.7,474.3 L548.5,472.1 L563.2,479.9 L578.0,489.0 L592.7,484.7 L607.5,482.0 L622.2,488.8 L637.0,491.7 L651.7,491.6 L666.5,488.8 L681.2,492.8 L696.0,492.1 L710.7,494.2 L725.5,493.7 L740.2,493.0 L755.0,492.9 L769.7,492.3 L784.5,491.4 L799.2,491.4 L814.0,494.2 L828.7,494.2 L843.5,493.7 L858.2,494.2 L873.0,494.2 L887.7,491.1 L902.5,494.2 L917.2,491.9 L932.0,483.2 L946.7,491.9" fill="none" stroke="#c71585" stroke-width="1.40" stroke-opacity="0.28" stroke-linejoin="round"/>
<path d="M238.7,492.7 L253.4,491.6 L268.2,490.5 L282.9,487.8 L297.7,485.0 L312.4,478.6 L327.2,472.2 L341.9,474.0 L356.7,475.9 L371.4,472.2 L386.2,461.2 L400.9,450.2 L415.7,439.2 L430.4,428.2 L445.2,420.8 L459.9,462.4 L474.7,459.4 L489.4,461.0 L504.2,455.0 L519.0,475.9 L533.7,472.2 L548.5,481.4 L563.2,487.0 L578.0,492.3 L592.7,487.1 L607.5,474.0 L622.2,487.1 L637.0,490.5 L651.7,490.4 L666.5,482.5 L681.2,490.7 L696.0,490.6 L710.7,490.8 L725.5,493.3 L740.2,490.9 L755.0,492.0 L769.7,491.7 L784.5,493.6 L799.2,489.7 L814.0,491.7 L828.7,494.2 L843.5,493.4 L858.2,493.4 L873.0,491.6 L887.7,494.2 L902.5,492.4 L917.2,493.0 L932.0,492.6 L946.7,490.7" fill="none" stroke="#c71585" stroke-width="1.40" stroke-opacity="0.28" stroke-linejoin="round"/>
<path d="M238.7,492.0 L253.4,489.4 L268.2,486.9 L282.9,485.0 L297.7,483.2 L312.4,481.4 L327.2,479.5 L341.9,478.6 L356.7,477.7 L371.4,474.0 L386.2,464.9 L400.9,453.8 L415.7,435.5 L430.4,439.2 L445.2,431.8 L459.9,455.3 L474.7,457.5 L489.4,441.5 L504.2,454.1 L519.0,467.6 L533.7,476.1 L548.5,480.5 L563.2,488.2 L578.0,488.4 L592.7,477.7 L607.5,480.4 L622.2,481.6 L637.0,489.1 L651.7,491.8 L666.5,493.3 L681.2,494.2 L696.0,493.9 L710.7,491.3 L725.5,493.6 L740.2,494.2 L755.0,494.2 L769.7,494.2 L784.5,494.2 L799.2,494.2 L814.0,494.2 L828.7,490.4 L843.5,490.0 L858.2,493.9 L873.0,494.2 L887.7,494.2 L902.5,492.7 L917.2,494.2 L932.0,494.2 L946.7,494.2" fill="none" stroke="#c71585" stroke-width="1.40" stroke-opacity="0.28" stroke-linejoin="round"/>
<path d="M238.7,492.4 L253.4,490.5 L268.2,488.7 L282.9,485.9 L297.7,483.2 L312.4,468.5 L327.2,450.2 L341.9,439.2 L356.7,424.5 L371.4,420.8 L386.2,424.5 L400.9,428.2 L415.7,409.8 L430.4,417.2 L445.2,435.5 L459.9,454.8 L474.7,463.7 L489.4,469.3 L504.2,462.1 L519.0,474.3 L533.7,477.2 L548.5,486.2 L563.2,482.8 L578.0,491.2 L592.7,486.7 L607.5,483.6 L622.2,491.2 L637.0,491.5 L651.7,489.7 L666.5,490.0 L681.2,494.2 L696.0,491.8 L710.7,494.2 L725.5,491.6 L740.2,494.1 L755.0,494.2 L769.7,494.2 L784.5,493.8 L799.2,494.2 L814.0,493.9 L828.7,494.2 L843.5,494.2 L858.2,492.9 L873.0,494.2 L887.7,492.6 L902.5,494.2 L917.2,493.4 L932.0,492.2 L946.7,486.9" fill="none" stroke="#c71585" stroke-width="1.40" stroke-opacity="0.28" stroke-linejoin="round"/>
<path d="M238.7,492.4 L253.4,490.9 L268.2,489.4 L282.9,486.1 L297.7,482.8 L312.4,473.7 L327.2,464.5 L341.9,463.8 L356.7,459.7 L371.4,454.6 L386.2,435.5 L400.9,419.0 L415.7,403.2 L430.4,406.2 L445.2,414.2 L459.9,438.1 L474.7,450.5 L489.4,452.0 L504.2,453.5 L519.0,468.5 L533.7,470.0 L548.5,478.4 L563.2,485.0 L578.0,486.9 L592.7,485.0 L607.5,482.1 L622.2,488.0 L637.0,490.2 L651.7,491.3 L666.5,488.0 L681.2,492.0 L696.0,493.1 L710.7,492.9 L725.5,493.3 L740.2,493.1 L755.0,493.3 L769.7,493.1 L784.5,492.9 L799.2,493.3 L814.0,493.1 L828.7,492.9 L843.5,493.3 L858.2,493.1 L873.0,493.3 L887.7,493.1 L902.5,492.9 L917.2,493.3 L932.0,493.1 L946.7,493.1" fill="none" stroke="#c71585" stroke-width="3.00" stroke-linejoin="round"/>
<line x1="253.6" y1="274.1" x2="253.6" y2="494.2" stroke="#000" stroke-width="1.96"/>
<line x1="444.2" y1="274.1" x2="444.2" y2="494.2" stroke="#000" stroke-width="1.96"/>
</g>
<line x1="56.7" y1="494.20" x2="61.7" y2="494.20" stroke="#000" stroke-width="1.05"/>
<text transform="translate(52.40,498.95) scale(1,1.050)" font-size="13.20" text-anchor="end" font-family="'DejaVu Sans', 'Liberation Sans', sans-serif">0</text>
<line x1="56.7" y1="457.52" x2="61.7" y2="457.52" stroke="#000" stroke-width="1.05"/>
<text transform="translate(52.40,462.27) scale(1,1.050)" font-size="13.20" text-anchor="end" font-family="'DejaVu Sans', 'Liberation Sans', sans-serif">1</text>
<line x1="56.7" y1="420.83" x2="61.7" y2="420.83" stroke="#000" stroke-width="1.05"/>
<text transform="translate(52.40,425.58) scale(1,1.050)" font-size="13.20" text-anchor="end" font-family="'DejaVu Sans', 'Liberation Sans', sans-serif">2</text>
<line x1="56.7" y1="384.15" x2="61.7" y2="384.15" stroke="#000" stroke-width="1.05"/>
<text transform="translate(52.40,388.90) scale(1,1.050)" font-size="13.20" text-anchor="end" font-family="'DejaVu Sans', 'Liberation Sans', sans-serif">3</text>
<line x1="56.7" y1="347.47" x2="61.7" y2="347.47" stroke="#000" stroke-width="1.05"/>
<text transform="translate(52.40,352.22) scale(1,1.050)" font-size="13.20" text-anchor="end" font-family="'DejaVu Sans', 'Liberation Sans', sans-serif">4</text>
<line x1="56.7" y1="310.78" x2="61.7" y2="310.78" stroke="#000" stroke-width="1.05"/>
<text transform="translate(52.40,315.53) scale(1,1.050)" font-size="13.20" text-anchor="end" font-family="'DejaVu Sans', 'Liberation Sans', sans-serif">5</text>
<line x1="56.7" y1="274.10" x2="61.7" y2="274.10" stroke="#000" stroke-width="1.05"/>
<text transform="translate(52.40,278.85) scale(1,1.050)" font-size="13.20" text-anchor="end" font-family="'DejaVu Sans', 'Liberation Sans', sans-serif">6</text>
<line x1="231.20" y1="494.2" x2="231.20" y2="499.2" stroke="#000" stroke-width="1.05"/>
<text transform="translate(231.20,514.60) scale(1,1.050)" font-size="13.20" text-anchor="middle" font-family="'DejaVu Sans', 'Liberation Sans', sans-serif">1258</text>
<line x1="408.20" y1="494.2" x2="408.20" y2="499.2" stroke="#000" stroke-width="1.05"/>
<text transform="translate(408.20,514.60) scale(1,1.050)" font-size="13.20" text-anchor="middle" font-family="'DejaVu Sans', 'Liberation Sans', sans-serif">1259</text>
<line x1="585.20" y1="494.2" x2="585.20" y2="499.2" stroke="#000" stroke-width="1.05"/>
<text transform="translate(585.20,514.60) scale(1,1.050)" font-size="13.20" text-anchor="middle" font-family="'DejaVu Sans', 'Liberation Sans', sans-serif">1260</text>
<line x1="762.20" y1="494.2" x2="762.20" y2="499.2" stroke="#000" stroke-width="1.05"/>
<text transform="translate(762.20,514.60) scale(1,1.050)" font-size="13.20" text-anchor="middle" font-family="'DejaVu Sans', 'Liberation Sans', sans-serif">1261</text>
<line x1="939.20" y1="494.2" x2="939.20" y2="499.2" stroke="#000" stroke-width="1.05"/>
<text transform="translate(939.20,514.60) scale(1,1.050)" font-size="13.20" text-anchor="middle" font-family="'DejaVu Sans', 'Liberation Sans', sans-serif">1262</text>
<rect x="61.7" y="274.1" width="884.9" height="220.1" fill="none" stroke="#000" stroke-width="1.25"/>
<text transform="translate(62.10,269.70) scale(1,1.050)" font-size="13.20" text-anchor="start" font-family="'DejaVu Serif', 'Liberation Serif', serif">1e−6</text>
<text transform="translate(71.27,302.80) scale(1,1.050)" font-size="15.86" text-anchor="start" font-family="'DejaVu Sans', 'Liberation Sans', sans-serif">(b) Greenland</text>
<text transform="translate(266.55,303.30) scale(1,1.050)" font-size="15.86" text-anchor="start" font-family="'DejaVu Sans', 'Liberation Sans', sans-serif">Onset</text>
<text transform="translate(457.81,303.30) scale(1,1.050)" font-size="15.86" text-anchor="start" font-family="'DejaVu Sans', 'Liberation Sans', sans-serif">Peak</text>
<line x1="742.7" y1="292.1" x2="768.7" y2="292.1" stroke="#0000cd" stroke-width="2.20" stroke-linecap="round"/>
<text transform="translate(780.00,296.50) scale(1,1.050)" font-size="13.20" text-anchor="start" font-family="'DejaVu Sans', 'Liberation Sans', sans-serif">JUL1257 Ensemble</text>
<line x1="742.7" y1="312.2" x2="768.7" y2="312.2" stroke="#c71585" stroke-width="2.20" stroke-linecap="round"/>
<text transform="translate(780.00,316.65) scale(1,1.050)" font-size="13.20" text-anchor="start" font-family="'DejaVu Sans', 'Liberation Sans', sans-serif">JAN1258 Ensemble</text>
<line x1="742.7" y1="332.4" x2="768.7" y2="332.4" stroke="#000" stroke-width="2.20" stroke-linecap="round"/>
<text transform="translate(780.00,336.80) scale(1,1.050)" font-size="13.20" text-anchor="start" font-family="'DejaVu Sans', 'Liberation Sans', sans-serif">Ice Core Avg (Table S2)</text>
<rect x="741.6" y="347.4" width="28.2" height="10.4" fill="#999999"/>
<text transform="translate(780.00,356.95) scale(1,1.050)" font-size="13.20" text-anchor="start" font-family="'DejaVu Sans', 'Liberation Sans', sans-serif">+/- Half Ice Core Range</text>
<text transform="translate(34.0,384.5) rotate(-90) scale(1,1.05)" x="0" y="0" font-size="13.75" text-anchor="middle" font-family="'DejaVu Sans', 'Liberation Sans', sans-serif">Sulfate Deposition Kg S m<tspan dy="-5.1" font-size="9.6">−2</tspan></text>
<g clip-path="url(#clipc)">
<rect x="145.3" y="538.1" width="38.6" height="220.1" fill="#d9d9d9"/>
<rect x="301.4" y="538.1" width="49.5" height="220.1" fill="#d9d9d9"/>
<path d="M61.7,758.2 L76.5,758.2 L91.2,758.2 L106.0,758.2 L120.7,758.2 L135.4,758.2 L150.2,758.2 L164.9,758.2 L179.7,758.2 L194.4,756.4 L209.2,730.7 L223.9,648.2 L238.7,579.0 L253.4,565.6 L268.2,547.6 L282.9,547.6 L297.7,593.1 L312.4,629.8 L327.2,666.5 L341.9,699.5 L356.7,721.5 L371.4,734.4 L386.2,743.5 L400.9,747.2 L415.7,749.9 L430.4,751.6 L445.2,752.8 L459.9,753.6 L474.7,754.3 L489.4,754.5 L504.2,755.1 L519.0,755.8 L533.7,756.0 L548.5,756.5 L563.2,756.5 L578.0,756.6 L592.7,756.3 L607.5,756.3 L622.2,756.5 L637.0,756.6 L651.7,756.6 L666.5,756.8 L681.2,756.4 L696.0,756.7 L710.7,756.7 L725.5,756.9 L740.2,757.0 L755.0,757.1 L769.7,756.6 L784.5,757.0 L799.2,756.9 L814.0,756.9 L828.7,757.0 L843.5,757.2 L858.2,757.3 L873.0,756.9 L887.7,757.2 L902.5,757.2 L917.2,757.1 L932.0,757.4 L946.7,757.2" fill="none" stroke="#0000cd" stroke-width="1.40" stroke-opacity="0.28" stroke-linejoin="round"/>
<path d="M61.7,758.2 L76.5,758.2 L91.2,758.2 L106.0,758.2 L120.7,758.2 L135.4,758.2 L150.2,758.2 L164.9,758.2 L179.7,758.2 L194.4,756.4 L209.2,739.9 L223.9,666.5 L238.7,602.3 L253.4,555.3 L268.2,602.3 L282.9,554.6 L297.7,602.3 L312.4,644.5 L327.2,675.7 L341.9,703.2 L356.7,723.4 L371.4,736.2 L386.2,743.5 L400.9,747.2 L415.7,749.9 L430.4,751.4 L445.2,753.2 L459.9,754.0 L474.7,754.2 L489.4,754.8 L504.2,755.1 L519.0,755.6 L533.7,756.1 L548.5,756.2 L563.2,756.7 L578.0,756.4 L592.7,756.8 L607.5,756.2 L622.2,756.7 L637.0,756.6 L651.7,756.8 L666.5,756.5 L681.2,756.9 L696.0,757.2 L710.7,756.6 L725.5,756.7 L740.2,757.4 L755.0,756.9 L769.7,757.3 L784.5,756.8 L799.2,756.9 L814.0,757.1 L828.7,757.5 L843.5,757.1 L858.2,757.0 L873.0,757.4 L887.7,757.1 L902.5,757.2 L917.2,756.8 L932.0,757.5 L946.7,757.1" fill="none" stroke="#0000cd" stroke-width="1.40" stroke-opacity="0.28" stroke-linejoin="round"/>
<path d="M61.7,758.2 L76.5,758.2 L91.2,758.2 L106.0,758.2 L120.7,758.2 L135.4,758.2 L150.2,758.2 L164.9,758.2 L179.7,758.2 L194.4,756.4 L209.2,739.9 L223.9,675.7 L238.7,611.5 L253.4,584.0 L268.2,596.8 L282.9,602.3 L297.7,620.6 L312.4,655.5 L327.2,688.5 L341.9,717.8 L356.7,730.7 L371.4,739.9 L386.2,745.4 L400.9,748.1 L415.7,750.9 L430.4,752.2 L445.2,753.4 L459.9,754.2 L474.7,754.7 L489.4,755.2 L504.2,755.4 L519.0,755.8 L533.7,756.2 L548.5,756.7 L563.2,756.9 L578.0,756.3 L592.7,756.5 L607.5,757.0 L622.2,756.7 L637.0,756.8 L651.7,756.9 L666.5,756.8 L681.2,756.8 L696.0,756.7 L710.7,757.0 L725.5,757.3 L740.2,756.9 L755.0,757.1 L769.7,757.0 L784.5,756.9 L799.2,757.0 L814.0,756.7 L828.7,757.4 L843.5,756.9 L858.2,757.4 L873.0,757.4 L887.7,757.2 L902.5,757.0 L917.2,757.4 L932.0,757.4 L946.7,757.4" fill="none" stroke="#0000cd" stroke-width="1.40" stroke-opacity="0.28" stroke-linejoin="round"/>
<path d="M61.7,758.2 L76.5,758.2 L91.2,758.2 L106.0,758.2 L120.7,758.2 L135.4,758.2 L150.2,758.2 L164.9,758.2 L179.7,758.2 L194.4,756.7 L209.2,741.7 L223.9,684.8 L238.7,620.6 L253.4,593.1 L268.2,602.3 L282.9,611.5 L297.7,629.8 L312.4,666.5 L327.2,695.8 L341.9,721.5 L356.7,734.4 L371.4,741.7 L386.2,747.2 L400.9,749.0 L415.7,750.9 L430.4,752.2 L445.2,753.6 L459.9,754.5 L474.7,754.9 L489.4,755.4 L504.2,755.6 L519.0,755.8 L533.7,756.6 L548.5,756.5 L563.2,756.6 L578.0,756.6 L592.7,756.6 L607.5,756.9 L622.2,756.7 L637.0,757.1 L651.7,756.8 L666.5,757.0 L681.2,757.1 L696.0,757.1 L710.7,757.3 L725.5,756.9 L740.2,757.2 L755.0,757.3 L769.7,757.2 L784.5,757.1 L799.2,756.9 L814.0,757.2 L828.7,757.1 L843.5,757.3 L858.2,757.4 L873.0,757.2 L887.7,757.5 L902.5,757.0 L917.2,757.5 L932.0,757.4 L946.7,757.3" fill="none" stroke="#0000cd" stroke-width="1.40" stroke-opacity="0.28" stroke-linejoin="round"/>
<path d="M61.7,758.2 L76.5,758.2 L91.2,758.2 L106.0,758.2 L120.7,758.2 L135.4,758.2 L150.2,758.2 L164.9,758.2 L179.7,758.2 L194.4,756.7 L209.2,743.5 L223.9,688.5 L238.7,629.8 L253.4,602.3 L268.2,611.5 L282.9,629.8 L297.7,657.3 L312.4,684.8 L327.2,703.2 L341.9,721.5 L356.7,734.4 L371.4,741.7 L386.2,747.2 L400.9,749.0 L415.7,750.9 L430.4,752.6 L445.2,753.8 L459.9,754.3 L474.7,754.5 L489.4,755.2 L504.2,755.8 L519.0,755.7 L533.7,756.5 L548.5,756.8 L563.2,756.5 L578.0,756.7 L592.7,756.5 L607.5,756.9 L622.2,756.9 L637.0,756.9 L651.7,756.9 L666.5,757.1 L681.2,756.9 L696.0,756.9 L710.7,757.1 L725.5,756.9 L740.2,756.9 L755.0,757.2 L769.7,756.9 L784.5,757.2 L799.2,757.2 L814.0,757.4 L828.7,757.5 L843.5,757.1 L858.2,757.0 L873.0,757.6 L887.7,757.6 L902.5,757.5 L917.2,757.6 L932.0,757.6 L946.7,757.3" fill="none" stroke="#0000cd" stroke-width="1.40" stroke-opacity="0.28" stroke-linejoin="round"/>
<path d="M61.7,758.2 L76.5,758.2 L91.2,758.2 L106.0,758.2 L120.7,758.2 L135.4,758.2 L150.2,758.2 L164.9,758.2 L179.7,758.2 L194.4,756.7 L209.2,745.4 L223.9,703.2 L238.7,648.2 L253.4,615.1 L268.2,622.5 L282.9,626.1 L297.7,662.8 L312.4,688.5 L327.2,706.8 L341.9,723.4 L356.7,736.2 L371.4,743.5 L386.2,747.2 L400.9,749.0 L415.7,751.8 L430.4,753.0 L445.2,754.0 L459.9,755.0 L474.7,755.1 L489.4,755.6 L504.2,755.9 L519.0,756.2 L533.7,756.5 L548.5,756.8 L563.2,756.7 L578.0,756.7 L592.7,756.9 L607.5,757.0 L622.2,757.2 L637.0,756.9 L651.7,756.6 L666.5,757.0 L681.2,757.2 L696.0,757.1 L710.7,757.1 L725.5,757.1 L740.2,757.1 L755.0,757.0 L769.7,757.4 L784.5,757.2 L799.2,757.3 L814.0,757.2 L828.7,757.8 L843.5,757.4 L858.2,757.1 L873.0,757.5 L887.7,757.5 L902.5,757.5 L917.2,757.6 L932.0,757.5 L946.7,757.7" fill="none" stroke="#0000cd" stroke-width="1.40" stroke-opacity="0.28" stroke-linejoin="round"/>
<path d="M61.7,758.2 L76.5,758.2 L91.2,758.2 L106.0,758.2 L120.7,758.2 L135.4,758.2 L150.2,758.2 L164.9,758.2 L179.7,758.2 L194.4,757.1 L209.2,747.2 L223.9,706.8 L238.7,657.3 L253.4,626.1 L268.2,639.0 L282.9,648.2 L297.7,675.7 L312.4,695.8 L327.2,712.3 L341.9,727.0 L356.7,738.0 L371.4,744.4 L386.2,748.1 L400.9,749.9 L415.7,751.8 L430.4,752.9 L445.2,754.3 L459.9,754.8 L474.7,755.3 L489.4,755.5 L504.2,755.8 L519.0,756.2 L533.7,756.7 L548.5,756.5 L563.2,756.9 L578.0,757.1 L592.7,757.1 L607.5,757.0 L622.2,756.9 L637.0,756.9 L651.7,757.0 L666.5,757.1 L681.2,757.4 L696.0,757.2 L710.7,757.5 L725.5,757.1 L740.2,757.2 L755.0,756.9 L769.7,757.4 L784.5,757.0 L799.2,757.1 L814.0,757.4 L828.7,757.2 L843.5,757.3 L858.2,757.6 L873.0,757.3 L887.7,757.7 L902.5,757.1 L917.2,757.6 L932.0,757.4 L946.7,757.5" fill="none" stroke="#0000cd" stroke-width="1.40" stroke-opacity="0.28" stroke-linejoin="round"/>
<path d="M61.7,758.2 L76.5,758.2 L91.2,758.2 L106.0,758.2 L120.7,758.2 L135.4,758.2 L150.2,758.2 L164.9,758.2 L179.7,758.2 L194.4,757.1 L209.2,749.0 L223.9,721.5 L238.7,694.0 L253.4,679.3 L268.2,684.8 L282.9,672.0 L297.7,688.5 L312.4,703.2 L327.2,717.8 L341.9,730.7 L356.7,739.9 L371.4,745.4 L386.2,749.0 L400.9,749.9 L415.7,751.8 L430.4,753.3 L445.2,754.2 L459.9,754.7 L474.7,755.2 L489.4,755.7 L504.2,755.9 L519.0,756.4 L533.7,756.6 L548.5,757.0 L563.2,756.8 L578.0,756.9 L592.7,757.0 L607.5,756.9 L622.2,757.1 L637.0,756.9 L651.7,756.7 L666.5,757.3 L681.2,757.3 L696.0,756.8 L710.7,757.3 L725.5,757.4 L740.2,757.2 L755.0,757.2 L769.7,757.0 L784.5,757.5 L799.2,757.5 L814.0,757.0 L828.7,757.2 L843.5,757.4 L858.2,757.6 L873.0,757.5 L887.7,757.5 L902.5,757.6 L917.2,757.7 L932.0,757.2 L946.7,757.7" fill="none" stroke="#0000cd" stroke-width="1.40" stroke-opacity="0.28" stroke-linejoin="round"/>
<path d="M61.7,758.2 L76.5,758.2 L91.2,758.2 L106.0,758.2 L120.7,758.2 L135.4,758.2 L150.2,758.2 L164.9,758.2 L179.7,758.2 L194.4,757.3 L209.2,750.9 L223.9,730.7 L238.7,706.8 L253.4,696.6 L268.2,697.7 L282.9,701.3 L297.7,708.7 L312.4,717.8 L327.2,725.2 L341.9,736.2 L356.7,741.7 L371.4,746.3 L386.2,749.0 L400.9,750.9 L415.7,752.7 L430.4,753.9 L445.2,754.7 L459.9,755.5 L474.7,755.4 L489.4,755.7 L504.2,756.3 L519.0,756.6 L533.7,756.4 L548.5,756.8 L563.2,756.9 L578.0,757.0 L592.7,757.0 L607.5,757.2 L622.2,756.9 L637.0,757.2 L651.7,757.3 L666.5,757.3 L681.2,757.4 L696.0,757.3 L710.7,756.7 L725.5,757.4 L740.2,757.5 L755.0,757.7 L769.7,757.4 L784.5,757.7 L799.2,757.4 L814.0,757.3 L828.7,757.6 L843.5,757.6 L858.2,757.6 L873.0,757.5 L887.7,757.4 L902.5,757.3 L917.2,757.7 L932.0,757.6 L946.7,757.7" fill="none" stroke="#0000cd" stroke-width="1.40" stroke-opacity="0.28" stroke-linejoin="round"/>
<path d="M61.7,758.2 L76.5,758.2 L91.2,758.2 L106.0,758.2 L120.7,758.2 L135.4,758.2 L150.2,758.2 L164.9,758.2 L179.7,758.2 L194.4,756.7 L209.2,743.5 L223.9,684.8 L238.7,633.5 L253.4,607.8 L268.2,615.1 L282.9,637.1 L297.7,666.5 L312.4,694.0 L327.2,712.3 L341.9,727.0 L356.7,738.0 L371.4,743.5 L386.2,747.2 L400.9,749.0 L415.7,750.9 L430.4,752.1 L445.2,754.1 L459.9,754.4 L474.7,754.6 L489.4,755.3 L504.2,755.7 L519.0,755.8 L533.7,756.4 L548.5,756.5 L563.2,756.8 L578.0,757.1 L592.7,756.3 L607.5,756.8 L622.2,757.0 L637.0,756.5 L651.7,757.0 L666.5,756.8 L681.2,756.9 L696.0,756.9 L710.7,756.8 L725.5,756.9 L740.2,757.0 L755.0,757.4 L769.7,757.0 L784.5,756.9 L799.2,757.2 L814.0,757.6 L828.7,757.4 L843.5,757.2 L858.2,757.2 L873.0,757.2 L887.7,757.5 L902.5,757.4 L917.2,757.5 L932.0,757.2 L946.7,757.4" fill="none" stroke="#0000cd" stroke-width="1.40" stroke-opacity="0.28" stroke-linejoin="round"/>
<path d="M61.7,758.2 L76.5,758.2 L91.2,758.2 L106.0,758.2 L120.7,758.2 L135.4,758.2 L150.2,758.2 L164.9,758.2 L179.7,757.6 L194.4,756.7 L209.2,743.9 L223.9,692.2 L238.7,640.3 L253.4,609.6 L268.2,619.4 L282.9,630.4 L297.7,654.6 L312.4,680.4 L327.2,699.9 L341.9,719.3 L356.7,733.3 L371.4,741.7 L386.2,747.2 L400.9,748.5 L415.7,751.2 L430.4,752.7 L445.2,754.0 L459.9,754.5 L474.7,754.9 L489.4,755.3 L504.2,755.6 L519.0,756.0 L533.7,756.4 L548.5,756.7 L563.2,756.8 L578.0,756.8 L592.7,756.8 L607.5,756.8 L622.2,756.9 L637.0,756.9 L651.7,756.9 L666.5,757.0 L681.2,757.0 L696.0,757.0 L710.7,757.0 L725.5,757.1 L740.2,757.1 L755.0,757.1 L769.7,757.1 L784.5,757.2 L799.2,757.2 L814.0,757.2 L828.7,757.2 L843.5,757.3 L858.2,757.3 L873.0,757.3 L887.7,757.4 L902.5,757.4 L917.2,757.4 L932.0,757.4 L946.7,757.5" fill="none" stroke="#0000cd" stroke-width="3.00" stroke-linejoin="round"/>
<path d="M238.7,758.2 L253.4,757.7 L268.2,757.3 L282.9,755.4 L297.7,752.7 L312.4,747.2 L327.2,730.7 L341.9,694.0 L356.7,650.0 L371.4,675.7 L386.2,690.3 L400.9,673.8 L415.7,697.7 L430.4,703.2 L445.2,712.3 L459.9,721.5 L474.7,730.7 L489.4,738.0 L504.2,743.5 L519.0,747.8 L533.7,750.7 L548.5,753.5 L563.2,754.0 L578.0,754.1 L592.7,754.3 L607.5,755.1 L622.2,755.6 L637.0,755.9 L651.7,756.1 L666.5,756.0 L681.2,756.4 L696.0,756.3 L710.7,756.7 L725.5,756.5 L740.2,756.4 L755.0,756.5 L769.7,756.5 L784.5,756.6 L799.2,756.4 L814.0,756.7 L828.7,756.7 L843.5,756.9 L858.2,756.5 L873.0,757.1 L887.7,756.9 L902.5,757.4 L917.2,757.0 L932.0,757.1 L946.7,757.3" fill="none" stroke="#c71585" stroke-width="1.40" stroke-opacity="0.28" stroke-linejoin="round"/>
<path d="M238.7,758.2 L253.4,757.7 L268.2,757.3 L282.9,756.0 L297.7,752.7 L312.4,747.2 L327.2,736.2 L341.9,712.3 L356.7,683.0 L371.4,696.8 L386.2,701.3 L400.9,699.5 L415.7,705.0 L430.4,708.7 L445.2,714.2 L459.9,725.2 L474.7,732.5 L489.4,739.9 L504.2,744.4 L519.0,748.2 L533.7,751.2 L548.5,753.1 L563.2,754.0 L578.0,754.1 L592.7,754.4 L607.5,755.1 L622.2,755.8 L637.0,756.1 L651.7,755.9 L666.5,756.3 L681.2,756.6 L696.0,756.2 L710.7,756.3 L725.5,756.5 L740.2,756.2 L755.0,756.4 L769.7,756.5 L784.5,756.7 L799.2,756.7 L814.0,756.8 L828.7,756.7 L843.5,757.0 L858.2,756.8 L873.0,757.2 L887.7,756.9 L902.5,756.9 L917.2,757.2 L932.0,757.1 L946.7,757.1" fill="none" stroke="#c71585" stroke-width="1.40" stroke-opacity="0.28" stroke-linejoin="round"/>
<path d="M238.7,758.2 L253.4,757.5 L268.2,756.7 L282.9,754.5 L297.7,749.0 L312.4,739.9 L327.2,721.5 L341.9,703.2 L356.7,695.8 L371.4,699.5 L386.2,703.2 L400.9,703.2 L415.7,706.8 L430.4,710.5 L445.2,714.2 L459.9,723.4 L474.7,732.5 L489.4,739.9 L504.2,745.4 L519.0,748.6 L533.7,751.6 L548.5,753.5 L563.2,754.4 L578.0,754.0 L592.7,754.8 L607.5,755.4 L622.2,755.6 L637.0,756.4 L651.7,756.3 L666.5,756.1 L681.2,756.8 L696.0,756.4 L710.7,756.5 L725.5,756.4 L740.2,756.8 L755.0,756.5 L769.7,756.6 L784.5,756.4 L799.2,756.5 L814.0,756.8 L828.7,757.0 L843.5,757.0 L858.2,756.8 L873.0,757.2 L887.7,757.0 L902.5,757.1 L917.2,757.1 L932.0,757.2 L946.7,757.0" fill="none" stroke="#c71585" stroke-width="1.40" stroke-opacity="0.28" stroke-linejoin="round"/>
<path d="M238.7,758.2 L253.4,757.6 L268.2,757.1 L282.9,755.4 L297.7,752.7 L312.4,749.0 L327.2,741.7 L341.9,727.0 L356.7,706.8 L371.4,703.2 L386.2,706.8 L400.9,705.0 L415.7,708.7 L430.4,712.3 L445.2,717.8 L459.9,727.0 L474.7,734.4 L489.4,740.8 L504.2,745.4 L519.0,748.7 L533.7,752.1 L548.5,753.9 L563.2,754.3 L578.0,754.6 L592.7,754.9 L607.5,755.3 L622.2,756.1 L637.0,756.4 L651.7,756.3 L666.5,756.6 L681.2,756.7 L696.0,756.5 L710.7,756.7 L725.5,756.7 L740.2,756.8 L755.0,756.7 L769.7,756.5 L784.5,757.0 L799.2,756.9 L814.0,756.7 L828.7,757.1 L843.5,756.9 L858.2,757.1 L873.0,756.8 L887.7,757.2 L902.5,757.1 L917.2,757.0 L932.0,757.4 L946.7,757.2" fill="none" stroke="#c71585" stroke-width="1.40" stroke-opacity="0.28" stroke-linejoin="round"/>
<path d="M238.7,758.2 L253.4,757.7 L268.2,757.3 L282.9,756.0 L297.7,753.6 L312.4,749.9 L327.2,743.5 L341.9,728.9 L356.7,710.5 L371.4,710.5 L386.2,712.3 L400.9,710.5 L415.7,714.2 L430.4,717.8 L445.2,721.5 L459.9,730.7 L474.7,738.0 L489.4,743.5 L504.2,747.2 L519.0,749.5 L533.7,752.6 L548.5,753.8 L563.2,754.6 L578.0,754.8 L592.7,754.9 L607.5,755.6 L622.2,756.2 L637.0,756.4 L651.7,756.6 L666.5,756.7 L681.2,756.4 L696.0,756.8 L710.7,756.7 L725.5,756.4 L740.2,756.5 L755.0,757.1 L769.7,756.8 L784.5,756.7 L799.2,756.9 L814.0,756.5 L828.7,756.9 L843.5,757.5 L858.2,757.2 L873.0,757.1 L887.7,757.2 L902.5,757.0 L917.2,757.0 L932.0,757.3 L946.7,757.1" fill="none" stroke="#c71585" stroke-width="1.40" stroke-opacity="0.28" stroke-linejoin="round"/>
<path d="M238.7,758.2 L253.4,757.7 L268.2,757.3 L282.9,756.0 L297.7,753.6 L312.4,750.9 L327.2,745.4 L341.9,732.5 L356.7,714.2 L371.4,714.2 L386.2,716.0 L400.9,714.2 L415.7,717.8 L430.4,719.7 L445.2,723.4 L459.9,732.5 L474.7,739.9 L489.4,744.4 L504.2,748.1 L519.0,750.6 L533.7,753.1 L548.5,754.6 L563.2,754.9 L578.0,755.1 L592.7,755.4 L607.5,755.6 L622.2,756.3 L637.0,756.4 L651.7,756.7 L666.5,756.8 L681.2,756.7 L696.0,756.8 L710.7,756.7 L725.5,757.1 L740.2,757.0 L755.0,757.0 L769.7,756.5 L784.5,757.4 L799.2,757.2 L814.0,757.1 L828.7,757.2 L843.5,757.1 L858.2,757.3 L873.0,757.1 L887.7,757.6 L902.5,757.1 L917.2,757.3 L932.0,757.2 L946.7,757.4" fill="none" stroke="#c71585" stroke-width="1.40" stroke-opacity="0.28" stroke-linejoin="round"/>
<path d="M238.7,758.2 L253.4,757.8 L268.2,757.5 L282.9,756.4 L297.7,754.5 L312.4,750.9 L327.2,747.2 L341.9,736.2 L356.7,717.8 L371.4,717.8 L386.2,719.7 L400.9,717.8 L415.7,721.5 L430.4,723.4 L445.2,725.2 L459.9,734.4 L474.7,739.9 L489.4,745.4 L504.2,749.0 L519.0,751.6 L533.7,753.2 L548.5,754.8 L563.2,755.6 L578.0,755.3 L592.7,755.6 L607.5,756.2 L622.2,756.8 L637.0,756.5 L651.7,756.4 L666.5,757.0 L681.2,756.7 L696.0,756.7 L710.7,756.7 L725.5,757.0 L740.2,756.8 L755.0,757.1 L769.7,757.0 L784.5,756.9 L799.2,757.0 L814.0,756.8 L828.7,757.2 L843.5,757.2 L858.2,757.1 L873.0,757.4 L887.7,757.2 L902.5,757.4 L917.2,757.3 L932.0,757.3 L946.7,757.4" fill="none" stroke="#c71585" stroke-width="1.40" stroke-opacity="0.28" stroke-linejoin="round"/>
<path d="M238.7,758.2 L253.4,757.8 L268.2,757.5 L282.9,756.4 L297.7,754.5 L312.4,751.8 L327.2,749.0 L341.9,739.9 L356.7,721.5 L371.4,719.7 L386.2,716.0 L400.9,712.3 L415.7,714.2 L430.4,716.0 L445.2,719.7 L459.9,728.9 L474.7,736.2 L489.4,741.7 L504.2,746.3 L519.0,749.6 L533.7,752.1 L548.5,753.7 L563.2,754.6 L578.0,754.6 L592.7,755.1 L607.5,755.8 L622.2,756.2 L637.0,756.4 L651.7,756.4 L666.5,756.8 L681.2,756.3 L696.0,756.8 L710.7,756.5 L725.5,756.7 L740.2,756.9 L755.0,756.8 L769.7,756.9 L784.5,757.1 L799.2,757.2 L814.0,756.9 L828.7,757.0 L843.5,756.9 L858.2,757.4 L873.0,757.2 L887.7,757.1 L902.5,757.3 L917.2,757.4 L932.0,757.2 L946.7,757.2" fill="none" stroke="#c71585" stroke-width="1.40" stroke-opacity="0.28" stroke-linejoin="round"/>
<path d="M238.7,758.2 L253.4,757.8 L268.2,757.5 L282.9,756.4 L297.7,754.5 L312.4,752.7 L327.2,749.0 L341.9,741.7 L356.7,727.0 L371.4,721.5 L386.2,717.8 L400.9,716.0 L415.7,712.3 L430.4,714.2 L445.2,717.8 L459.9,727.0 L474.7,734.4 L489.4,741.7 L504.2,746.3 L519.0,749.4 L533.7,752.5 L548.5,754.1 L563.2,754.5 L578.0,754.3 L592.7,754.8 L607.5,755.5 L622.2,756.4 L637.0,756.2 L651.7,756.2 L666.5,756.6 L681.2,757.3 L696.0,756.6 L710.7,756.2 L725.5,756.7 L740.2,756.8 L755.0,756.8 L769.7,756.9 L784.5,756.7 L799.2,757.0 L814.0,757.1 L828.7,757.2 L843.5,757.1 L858.2,757.1 L873.0,757.1 L887.7,757.1 L902.5,757.2 L917.2,757.6 L932.0,757.4 L946.7,757.4" fill="none" stroke="#c71585" stroke-width="1.40" stroke-opacity="0.28" stroke-linejoin="round"/>
<path d="M238.7,758.2 L253.4,757.6 L268.2,757.1 L282.9,755.4 L297.7,751.8 L312.4,745.4 L327.2,734.4 L341.9,721.5 L356.7,712.3 L371.4,716.0 L386.2,717.8 L400.9,717.8 L415.7,721.5 L430.4,725.2 L445.2,728.9 L459.9,736.2 L474.7,741.7 L489.4,745.4 L504.2,749.0 L519.0,751.3 L533.7,753.2 L548.5,754.7 L563.2,755.0 L578.0,755.2 L592.7,755.2 L607.5,755.8 L622.2,756.4 L637.0,756.6 L651.7,756.5 L666.5,756.5 L681.2,756.6 L696.0,757.0 L710.7,756.5 L725.5,757.2 L740.2,757.0 L755.0,756.8 L769.7,757.0 L784.5,757.2 L799.2,757.2 L814.0,757.0 L828.7,756.9 L843.5,757.2 L858.2,757.1 L873.0,757.4 L887.7,757.3 L902.5,757.8 L917.2,757.2 L932.0,757.3 L946.7,757.2" fill="none" stroke="#c71585" stroke-width="1.40" stroke-opacity="0.28" stroke-linejoin="round"/>
<path d="M238.7,758.2 L253.4,757.8 L268.2,757.1 L282.9,755.4 L297.7,752.7 L312.4,748.1 L327.2,741.7 L341.9,725.2 L356.7,703.9 L371.4,706.8 L386.2,709.6 L400.9,707.8 L415.7,713.3 L430.4,718.0 L445.2,721.5 L459.9,730.3 L474.7,737.5 L489.4,743.0 L504.2,747.2 L519.0,749.9 L533.7,752.5 L548.5,754.2 L563.2,754.7 L578.0,754.7 L592.7,755.1 L607.5,755.6 L622.2,756.2 L637.0,756.4 L651.7,756.5 L666.5,756.6 L681.2,756.6 L696.0,756.7 L710.7,756.7 L725.5,756.7 L740.2,756.8 L755.0,756.8 L769.7,756.8 L784.5,756.9 L799.2,756.9 L814.0,757.0 L828.7,757.0 L843.5,757.0 L858.2,757.1 L873.0,757.1 L887.7,757.1 L902.5,757.2 L917.2,757.2 L932.0,757.2 L946.7,757.3" fill="none" stroke="#c71585" stroke-width="3.00" stroke-linejoin="round"/>
<line x1="164.6" y1="538.1" x2="164.6" y2="758.2" stroke="#000" stroke-width="1.96"/>
<line x1="326.3" y1="538.1" x2="326.3" y2="758.2" stroke="#000" stroke-width="1.96"/>
</g>
<line x1="56.7" y1="758.20" x2="61.7" y2="758.20" stroke="#000" stroke-width="1.05"/>
<text transform="translate(52.40,762.95) scale(1,1.050)" font-size="13.20" text-anchor="end" font-family="'DejaVu Sans', 'Liberation Sans', sans-serif">0.0</text>
<line x1="56.7" y1="721.52" x2="61.7" y2="721.52" stroke="#000" stroke-width="1.05"/>
<text transform="translate(52.40,726.27) scale(1,1.050)" font-size="13.20" text-anchor="end" font-family="'DejaVu Sans', 'Liberation Sans', sans-serif">0.2</text>
<line x1="56.7" y1="684.83" x2="61.7" y2="684.83" stroke="#000" stroke-width="1.05"/>
<text transform="translate(52.40,689.58) scale(1,1.050)" font-size="13.20" text-anchor="end" font-family="'DejaVu Sans', 'Liberation Sans', sans-serif">0.4</text>
<line x1="56.7" y1="648.15" x2="61.7" y2="648.15" stroke="#000" stroke-width="1.05"/>
<text transform="translate(52.40,652.90) scale(1,1.050)" font-size="13.20" text-anchor="end" font-family="'DejaVu Sans', 'Liberation Sans', sans-serif">0.6</text>
<line x1="56.7" y1="611.47" x2="61.7" y2="611.47" stroke="#000" stroke-width="1.05"/>
<text transform="translate(52.40,616.22) scale(1,1.050)" font-size="13.20" text-anchor="end" font-family="'DejaVu Sans', 'Liberation Sans', sans-serif">0.8</text>
<line x1="56.7" y1="574.78" x2="61.7" y2="574.78" stroke="#000" stroke-width="1.05"/>
<text transform="translate(52.40,579.53) scale(1,1.050)" font-size="13.20" text-anchor="end" font-family="'DejaVu Sans', 'Liberation Sans', sans-serif">1.0</text>
<line x1="56.7" y1="538.10" x2="61.7" y2="538.10" stroke="#000" stroke-width="1.05"/>
<text transform="translate(52.40,542.85) scale(1,1.050)" font-size="13.20" text-anchor="end" font-family="'DejaVu Sans', 'Liberation Sans', sans-serif">1.2</text>
<line x1="231.20" y1="758.2" x2="231.20" y2="763.2" stroke="#000" stroke-width="1.05"/>
<text transform="translate(231.20,778.60) scale(1,1.050)" font-size="13.20" text-anchor="middle" font-family="'DejaVu Sans', 'Liberation Sans', sans-serif">1258</text>
<line x1="408.20" y1="758.2" x2="408.20" y2="763.2" stroke="#000" stroke-width="1.05"/>
<text transform="translate(408.20,778.60) scale(1,1.050)" font-size="13.20" text-anchor="middle" font-family="'DejaVu Sans', 'Liberation Sans', sans-serif">1259</text>
<line x1="585.20" y1="758.2" x2="585.20" y2="763.2" stroke="#000" stroke-width="1.05"/>
<text transform="translate(585.20,778.60) scale(1,1.050)" font-size="13.20" text-anchor="middle" font-family="'DejaVu Sans', 'Liberation Sans', sans-serif">1260</text>
<line x1="762.20" y1="758.2" x2="762.20" y2="763.2" stroke="#000" stroke-width="1.05"/>
<text transform="translate(762.20,778.60) scale(1,1.050)" font-size="13.20" text-anchor="middle" font-family="'DejaVu Sans', 'Liberation Sans', sans-serif">1261</text>
<line x1="939.20" y1="758.2" x2="939.20" y2="763.2" stroke="#000" stroke-width="1.05"/>
<text transform="translate(939.20,778.60) scale(1,1.050)" font-size="13.20" text-anchor="middle" font-family="'DejaVu Sans', 'Liberation Sans', sans-serif">1262</text>
<rect x="61.7" y="538.1" width="884.9" height="220.1" fill="none" stroke="#000" stroke-width="1.25"/>
<text transform="translate(62.10,533.80) scale(1,1.050)" font-size="13.20" text-anchor="start" font-family="'DejaVu Serif', 'Liberation Serif', serif">1e−5</text>
<text transform="translate(72.57,569.50) scale(1,1.050)" font-size="15.86" text-anchor="start" font-family="'DejaVu Sans', 'Liberation Sans', sans-serif">(c) Antarctica</text>
<text transform="translate(179.05,592.60) scale(1,1.050)" font-size="15.86" text-anchor="start" font-family="'DejaVu Sans', 'Liberation Sans', sans-serif">Onset</text>
<text transform="translate(340.31,592.90) scale(1,1.050)" font-size="15.86" text-anchor="start" font-family="'DejaVu Sans', 'Liberation Sans', sans-serif">Peak</text>
<line x1="742.7" y1="556.1" x2="768.7" y2="556.1" stroke="#0000cd" stroke-width="2.20" stroke-linecap="round"/>
<text transform="translate(780.00,560.50) scale(1,1.050)" font-size="13.20" text-anchor="start" font-family="'DejaVu Sans', 'Liberation Sans', sans-serif">JUL1257 Ensemble</text>
<line x1="742.7" y1="576.2" x2="768.7" y2="576.2" stroke="#c71585" stroke-width="2.20" stroke-linecap="round"/>
<text transform="translate(780.00,580.65) scale(1,1.050)" font-size="13.20" text-anchor="start" font-family="'DejaVu Sans', 'Liberation Sans', sans-serif">JAN1258 Ensemble</text>
<line x1="742.7" y1="596.4" x2="768.7" y2="596.4" stroke="#000" stroke-width="2.20" stroke-linecap="round"/>
<text transform="translate(780.00,600.80) scale(1,1.050)" font-size="13.20" text-anchor="start" font-family="'DejaVu Sans', 'Liberation Sans', sans-serif">Ice Core Avg (Table S2)</text>
<rect x="741.6" y="611.4" width="28.2" height="10.4" fill="#999999"/>
<text transform="translate(780.00,620.95) scale(1,1.050)" font-size="13.20" text-anchor="start" font-family="'DejaVu Sans', 'Liberation Sans', sans-serif">+/- Half Ice Core Range</text>
<text transform="translate(21.6,649.3) rotate(-90) scale(1,1.05)" x="0" y="0" font-size="13.75" text-anchor="middle" font-family="'DejaVu Sans', 'Liberation Sans', sans-serif">Sulfate Deposition Kg S m<tspan dy="-5.1" font-size="9.6">−2</tspan></text>
<text transform="translate(503.80,801.00) scale(1,1.050)" font-size="18.40" text-anchor="middle" font-family="'DejaVu Sans', 'Liberation Sans', sans-serif">Year (CE)</text>
</g></svg>
</body></html>
